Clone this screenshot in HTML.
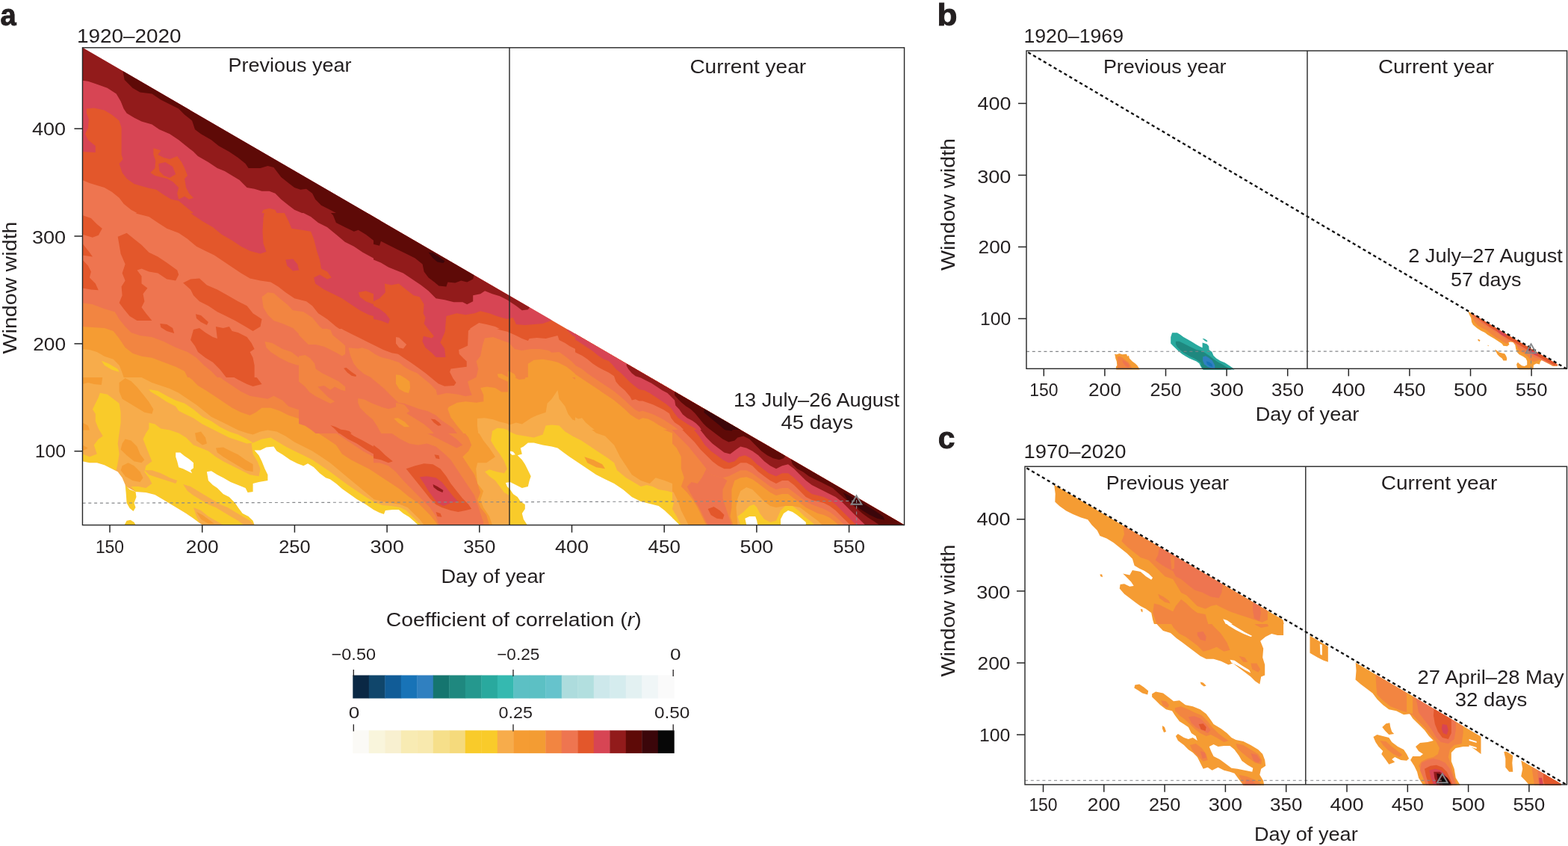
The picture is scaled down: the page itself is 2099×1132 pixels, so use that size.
<!DOCTYPE html>
<html lang="en">
<head>
<meta charset="utf-8">
<title>Correlation of window width and day of year</title>
<style>
html,body{margin:0;padding:0;background:#fff;}
body{width:2099px;height:1132px;overflow:hidden;}
svg{display:block;}
text{font-family:"Liberation Sans",sans-serif;fill:#231f20;}
</style>
</head>
<body>
<svg width="2099" height="1132" viewBox="0 0 2099 1132">
<rect width="2099" height="1132" fill="#ffffff"/>
<clipPath id="triA"><polygon points="110.45,63.8 110.45,702.55 1210.55,702.55"/></clipPath>
<g clip-path="url(#triA)">
<clipPath id="ca1"><rect x="100" y="60" width="400" height="225"/></clipPath>
<g clip-path="url(#ca1)">
<rect x="100" y="60" width="400" height="225" fill="#d74554"/>
<polygon fill="#e3572b" points="115.9,145.5 125.8,144.5 139.8,147.5 149.7,153.4 159.6,161.4 162.6,171.3 162.6,207.1 164.6,213.1 159.6,219.0 163.6,231.0 169.6,238.9 179.5,245.9 189.5,248.9 199.4,251.8 209.3,253.8 219.3,260.8 229.2,266.8 239.2,268.7 251.1,278.7 259.0,285.0 110.3,285.0 110.3,203.1 127.8,204.1 127.8,195.2 117.9,187.2 113.9,179.3 117.9,171.3 118.9,159.4 115.9,151.5"/>
<polygon fill="#e3572b" points="205.4,198.2 215.3,201.2 211.3,207.1 219.3,211.1 227.2,213.1 237.2,209.1 243.1,217.1 247.1,225.0 251.1,235.0 247.1,238.9 249.1,250.9 253.1,258.8 259.0,264.8 253.1,266.8 247.1,262.8 239.2,266.8 237.2,258.8 239.2,250.9 231.2,242.9 223.3,238.9 215.3,236.9 207.4,235.0 201.4,231.0 207.4,225.0 208.3,215.1 205.4,207.1"/>
<polygon fill="#d74554" points="212.3,219.0 221.3,217.1 231.2,223.0 235.2,233.0 227.2,237.9 219.3,235.0 213.3,229.0"/>
<polygon fill="#e3572b" points="352.5,280.7 360.4,278.7 368.4,280.7 370.4,285.0 350.5,285.0"/>
<polygon fill="#ee7550" points="110.3,240.9 119.9,244.9 129.8,247.9 139.8,250.9 149.7,256.8 159.6,264.8 165.6,272.7 175.5,280.7 183.5,285.0 110.3,285.0"/>
<polygon fill="#921b1b" points="110.3,60.0 110.3,107.7 117.9,108.7 129.8,112.7 143.7,117.7 155.7,125.6 161.6,135.5 165.6,145.5 169.6,151.5 179.5,157.4 189.5,162.4 203.4,166.4 213.3,173.3 227.2,179.3 239.2,187.2 249.1,195.2 259.0,203.1 265.0,209.1 278.9,217.1 290.9,225.0 300.8,229.0 310.7,235.0 320.7,240.9 330.6,250.9 340.6,252.8 350.5,255.8 360.4,255.8 368.4,258.8 376.3,266.8 386.3,274.7 394.2,280.7 404.2,285.0 500.0,285.0 500.0,60.0"/>
<polygon fill="#5e0a07" points="164.6,60.0 164.6,95.8 166.6,106.7 177.5,117.7 187.5,123.6 203.4,125.6 215.3,133.6 227.2,139.5 239.2,145.5 247.1,153.4 257.1,161.4 261.0,173.3 269.0,179.3 282.9,187.2 292.8,195.2 306.8,203.1 318.7,211.1 328.6,219.0 332.6,225.0 348.5,225.0 358.4,222.0 366.4,224.0 376.3,236.9 386.3,244.9 394.2,250.9 402.2,253.8 410.1,252.8 418.1,258.8 422.1,266.8 430.0,274.7 441.9,280.7 449.9,285.0 500.0,285.0 500.0,60.0"/>
</g>
<clipPath id="ca2"><rect x="100" y="285" width="400" height="220"/></clipPath>
<g clip-path="url(#ca2)">
<rect x="100" y="285" width="400" height="220" fill="#ee7550"/>
<polygon fill="#f28541" points="110.3,405.2 123.9,407.2 139.8,413.2 153.7,417.2 159.6,427.1 167.6,437.1 175.5,445.0 187.5,449.0 203.4,451.0 219.3,456.9 235.2,464.9 251.1,470.9 263.0,478.8 273.0,488.7 282.9,496.7 290.9,505.0 110.3,505.0"/>
<polygon fill="#f59c33" points="110.3,437.1 123.9,438.1 139.8,439.0 151.7,443.0 159.6,453.0 167.6,464.9 177.5,472.8 189.5,476.8 203.4,478.8 219.3,484.8 235.2,490.7 247.1,496.7 251.1,505.0 110.3,505.0"/>
<polygon fill="#f7ac4b" points="110.3,466.9 119.9,467.9 129.8,470.9 139.8,476.8 151.7,480.8 159.6,488.7 163.6,498.7 165.6,505.0 110.3,505.0"/>
<polygon fill="#f9cb2a" points="135.8,482.8 145.7,486.8 157.7,493.7 159.6,497.7 149.7,494.7 139.8,488.7"/>
<polygon fill="#f28541" points="350.5,397.3 358.4,391.3 366.4,392.3 374.4,399.3 384.3,407.2 392.2,415.2 406.2,417.2 418.1,425.1 428.0,437.1 438.0,445.0 451.9,453.0 461.8,462.9 463.8,474.8 457.9,476.8 445.9,470.9 434.0,464.9 422.1,458.9 410.1,456.9 402.2,449.0 392.2,439.0 378.3,433.1 366.4,429.1 358.4,421.2 352.5,411.2"/>
<polygon fill="#f28541" points="354.5,456.9 364.4,458.9 378.3,466.9 390.3,470.9 400.2,478.8 410.1,474.8 418.1,480.8 410.1,486.8 398.2,488.7 386.3,484.8 374.4,478.8 362.4,470.9 356.5,464.9"/>
<polygon fill="#f28541" points="465.8,464.9 477.7,466.9 489.7,464.9 500.0,468.9 500.0,505.0 477.7,505.0 469.8,490.7 463.8,478.8"/>
<polygon fill="#e3572b" points="171.6,280.0 183.5,286.0 199.4,289.9 211.3,297.9 223.3,305.8 239.2,311.8 251.1,319.8 263.0,329.7 275.0,335.7 286.9,341.6 298.8,349.6 310.7,357.5 322.7,365.5 334.6,372.4 348.5,375.4 362.4,377.4 372.4,383.4 382.3,391.3 394.2,399.3 410.1,403.3 418.1,409.2 426.0,419.2 438.0,427.1 449.9,437.1 461.8,445.0 473.8,451.0 487.7,458.9 500.0,462.9 500.0,280.0"/>
<polygon fill="#e3572b" points="110.3,288.0 121.9,291.9 129.8,299.9 136.8,305.8 131.8,314.8 123.9,317.8 110.3,313.8"/>
<polygon fill="#e3572b" points="110.3,325.7 119.9,337.7 123.9,343.6 110.3,341.6"/>
<polygon fill="#e3572b" points="110.3,347.6 117.9,355.5 121.9,363.5 119.9,371.5 127.8,379.4 131.8,388.3 121.9,387.4 110.3,385.4"/>
<polygon fill="#e3572b" points="157.7,316.8 169.6,311.8 179.5,319.8 189.5,327.7 199.4,337.7 211.3,343.6 223.3,351.6 237.2,361.5 239.2,367.5 235.2,375.4 223.3,373.4 211.3,365.5 199.4,363.5 189.5,359.5 183.5,361.5 189.5,369.5 189.5,379.4 197.4,385.4 191.5,393.3 193.4,403.3 189.5,411.2 195.4,419.2 203.4,429.1 195.4,429.1 183.5,429.1 173.6,423.1 165.6,413.2 159.6,405.2 163.6,395.3 162.6,383.4 167.6,375.4 163.6,365.5 167.6,353.6 161.6,339.6 159.6,327.7"/>
<polygon fill="#e3572b" points="245.1,378.4 255.1,373.4 267.0,372.4 276.9,381.4 290.9,387.4 304.8,395.3 318.7,403.3 330.6,409.2 338.6,419.2 350.5,427.1 348.5,437.1 338.6,443.0 328.6,437.1 314.7,429.1 302.8,423.1 290.9,417.2 278.9,409.2 267.0,403.3 259.0,395.3 255.1,387.4"/>
<polygon fill="#e3572b" points="262.0,420.2 269.0,422.1 278.9,431.1 276.9,435.1 269.0,431.1 263.0,426.1"/>
<polygon fill="#e3572b" points="214.3,433.1 223.3,434.1 231.2,439.0 233.2,446.0 223.3,443.0 215.3,438.1"/>
<polygon fill="#e3572b" points="259.0,441.0 267.0,439.0 275.0,445.0 284.9,451.0 290.9,453.0 288.9,437.1 298.8,439.0 306.8,437.1 310.7,443.0 318.7,445.0 330.6,451.0 336.6,458.9 340.6,466.9 334.6,470.9 338.6,478.8 340.6,488.7 340.6,505.0 302.8,505.0 294.8,494.7 284.9,484.8 275.0,478.8 265.0,470.9 261.0,462.9 255.1,455.0"/>
<polygon fill="#d74554" points="249.1,280.0 259.0,288.0 271.0,295.9 284.9,303.9 296.8,313.8 310.7,321.7 322.7,329.7 334.6,335.7 348.5,339.6 356.5,336.7 352.5,325.7 351.5,309.8 352.5,291.9 354.5,280.0"/>
<polygon fill="#d74554" points="378.3,280.0 386.3,295.9 390.3,305.8 404.2,307.8 416.1,309.8 420.1,319.8 424.1,335.7 428.0,347.6 430.0,359.5 438.0,363.5 443.9,371.5 438.0,373.4 428.0,367.5 420.1,371.5 422.1,379.4 434.0,387.4 445.9,393.3 457.9,399.3 469.8,407.2 481.7,415.2 493.6,421.2 500.0,423.1 500.0,280.0"/>
<polygon fill="#d74554" points="382.3,347.6 392.2,346.6 398.2,353.6 400.2,361.5 392.2,362.5 384.3,355.5"/>
<polygon fill="#e3572b" points="479.7,391.3 489.7,389.3 500.0,393.3 500.0,407.2 489.7,403.3 481.7,397.3"/>
<polygon fill="#921b1b" points="392.2,280.0 404.2,284.0 416.1,289.9 426.0,297.9 438.0,303.9 449.9,313.8 461.8,323.7 473.8,329.7 485.7,337.7 500.0,345.6 500.0,280.0"/>
<polygon fill="#5e0a07" points="438.0,280.0 445.9,288.0 449.9,297.9 461.8,303.9 473.8,309.8 479.7,307.8 489.7,313.8 500.0,321.7 500.0,280.0"/>
</g>
<clipPath id="ca3"><rect x="500" y="280" width="400" height="225"/></clipPath>
<g clip-path="url(#ca3)">
<rect x="500" y="280" width="400" height="225" fill="#e3572b"/>
<polygon fill="#ee7550" points="603.4,505.0 603.4,494.7 613.3,490.7 623.3,488.7 625.2,480.8 615.3,474.8 614.3,468.9 619.3,464.9 627.2,462.9 625.2,455.0 627.2,441.0 633.2,437.1 641.2,432.1 651.1,434.1 663.0,437.1 673.0,442.0 681.9,445.0 690.9,449.0 698.8,453.0 706.8,455.9 708.7,453.0 718.7,452.0 730.6,453.0 738.6,451.0 746.5,449.0 748.5,455.0 756.5,458.9 762.4,462.9 770.4,466.9 778.3,472.8 788.3,476.8 796.2,480.8 804.2,484.8 812.1,486.8 820.1,492.7 828.0,500.7 830.0,505.0"/>
<polygon fill="#f28541" points="639.2,505.0 639.2,494.7 637.2,484.8 643.1,478.8 643.1,468.9 647.1,458.9 651.1,452.0 659.0,451.0 671.0,455.0 681.9,458.9 688.9,466.9 698.8,468.9 710.7,466.9 722.7,466.9 734.6,468.9 738.6,471.8 748.5,470.9 756.5,476.8 764.4,482.8 770.4,488.7 778.3,492.7 788.3,498.7 794.2,505.0"/>
<polygon fill="#f59c33" points="706.8,505.0 706.8,486.8 714.7,481.8 726.6,480.8 738.6,482.8 746.5,484.8 758.4,490.7 768.4,498.7 774.4,505.0"/>
<polygon fill="#f59c33" points="665.0,500.7 673.0,498.7 681.9,496.7 688.9,500.7 690.9,505.0 665.0,505.0"/>
<polygon fill="#ee7550" points="500.0,464.9 509.9,468.9 519.9,472.8 531.8,476.8 533.8,470.9 539.8,476.8 551.7,482.8 563.6,490.7 575.5,498.7 585.5,505.0 500.0,505.0"/>
<polygon fill="#f28541" points="500.0,476.8 511.9,480.8 523.9,486.8 539.8,492.7 555.7,500.7 565.6,505.0 500.0,505.0"/>
<polygon fill="#ee7550" points="529.8,453.0 533.8,451.0 539.8,456.9 544.7,460.9 539.8,466.9 533.8,464.9 529.8,458.9"/>
<polygon fill="#d74554" points="500.0,280.0 500.0,403.3 508.0,399.3 515.9,391.3 514.9,379.4 523.9,381.4 533.8,379.4 543.7,387.4 553.7,395.3 561.6,397.3 567.6,407.2 566.6,419.2 569.6,425.1 567.6,433.1 573.6,441.0 579.5,451.0 575.5,453.0 567.6,451.0 565.6,456.9 569.6,464.9 577.5,470.9 583.5,477.8 595.4,478.8 596.4,468.9 591.5,458.9 595.4,445.0 596.4,435.1 597.4,423.1 611.3,419.2 623.3,421.2 635.2,419.2 643.1,416.2 655.1,419.2 665.0,423.1 678.9,427.1 686.9,425.1 690.9,434.1 702.8,435.1 714.7,434.1 726.6,433.1 737.6,429.1 758.4,419.2 758.4,280.0"/>
<polygon fill="#d74554" points="500.0,409.2 508.0,413.2 515.9,419.2 521.9,427.1 519.9,433.1 509.9,429.1 500.0,427.1"/>
<polygon fill="#d74554" points="758.4,441.0 766.4,449.0 778.3,455.0 790.3,460.9 798.2,468.9 810.1,476.8 822.1,480.8 830.0,488.7 838.0,496.7 845.9,505.0 877.7,505.0 877.7,498.7 778.3,439.0"/>
<polygon fill="#921b1b" points="838.0,489.7 845.9,494.7 855.9,500.7 863.8,505.0 877.7,505.0 869.8,498.7 841.9,486.8"/>
<polygon fill="#921b1b" points="500.0,280.0 500.0,347.6 509.9,351.6 519.9,357.5 529.8,361.5 539.8,365.5 551.7,373.4 563.6,381.4 573.6,389.3 583.5,399.3 595.4,401.3 607.4,404.3 619.3,404.3 625.2,407.2 633.2,403.3 633.2,395.3 643.1,393.3 649.1,389.3 659.0,393.3 669.0,396.3 678.9,401.3 690.9,409.2 698.8,415.2 706.8,414.2 710.7,409.2 710.7,280.0"/>
<polygon fill="#5e0a07" points="500.0,280.0 500.0,326.7 508.0,328.7 509.9,322.7 519.9,327.7 531.8,333.7 543.7,339.6 555.7,345.6 565.6,353.6 567.6,363.5 573.6,371.5 581.5,377.4 587.5,382.4 597.4,383.4 599.4,377.4 609.3,378.4 617.3,375.4 625.2,377.4 633.2,373.4 635.2,365.5 635.2,280.0"/>
<polygon fill="#3b060a" points="573.6,337.7 579.5,338.6 587.5,343.6 595.4,349.6 593.4,352.0 585.5,350.6 579.5,345.6"/>
</g>
<clipPath id="ca4"><rect x="100" y="505" width="400" height="220"/></clipPath>
<g clip-path="url(#ca4)">
<rect x="100" y="505" width="400" height="220" fill="#f7ac4b"/>
<polygon fill="#f59c33" points="179.5,500.0 191.5,506.0 203.4,511.9 215.3,515.9 227.2,519.9 239.2,525.8 251.1,533.8 263.0,541.7 273.0,549.7 282.9,557.7 294.8,563.6 306.8,569.6 318.7,575.5 330.6,579.5 338.6,581.5 348.5,577.5 358.4,575.5 370.4,577.5 382.3,583.5 394.2,591.5 406.2,597.4 418.1,603.4 430.0,611.3 441.9,619.3 453.9,629.2 465.8,639.2 477.7,649.1 489.7,659.0 500.0,667.6 500.0,500.0"/>
<polygon fill="#f28541" points="247.1,500.0 257.1,508.0 265.0,515.9 275.0,521.9 286.9,529.8 298.8,537.8 310.7,545.7 322.7,551.7 334.6,555.7 342.5,551.7 350.5,545.7 362.4,545.7 374.4,549.7 386.3,555.7 398.2,559.6 410.1,563.6 418.1,569.6 426.0,579.5 438.0,587.5 449.9,595.4 457.9,607.4 469.8,615.3 481.7,621.3 493.6,627.2 500.0,631.2 500.0,500.0"/>
<polygon fill="#ee7550" points="288.9,500.0 298.8,508.0 310.7,515.9 322.7,523.9 334.6,529.8 346.5,531.8 358.4,533.8 366.4,529.8 378.3,535.8 386.3,543.7 398.2,547.7 410.1,549.7 418.1,555.7 426.0,563.6 438.0,569.6 449.9,579.5 461.8,587.5 473.8,595.4 485.7,603.4 500.0,611.3 500.0,500.0"/>
<polygon fill="#f28541" points="398.2,500.0 418.1,506.0 438.0,515.9 453.9,523.9 467.8,531.8 477.7,539.8 487.7,537.8 500.0,535.8 500.0,500.0"/>
<polygon fill="#e3572b" points="304.8,500.0 338.6,500.0 344.5,506.0 350.5,513.9 338.6,516.9 330.6,513.9 318.7,508.0"/>
<polygon fill="#e3572b" points="443.9,569.6 453.9,573.6 463.8,576.5 473.8,583.5 485.7,589.5 500.0,597.4 500.0,607.4 489.7,601.4 477.7,593.4 465.8,587.5 453.9,579.5"/>
<polygon fill="#f59c33" points="159.6,511.9 167.6,506.0 175.5,509.9 183.5,517.9 191.5,527.8 199.4,537.8 205.4,547.7 203.4,553.7 193.4,551.7 183.5,545.7 173.6,539.8 163.6,533.8 159.6,523.9"/>
<polygon fill="#f59c33" points="167.6,587.5 175.5,589.5 183.5,597.4 187.5,607.4 193.4,615.3 189.5,619.3 179.5,617.3 169.6,609.3 161.6,601.4 163.6,593.4"/>
<polygon fill="#f59c33" points="163.6,623.3 171.6,619.3 179.5,623.3 187.5,631.2 191.5,639.2 187.5,645.1 177.5,643.1 167.6,637.2 161.6,629.2"/>
<polygon fill="#f59c33" points="261.0,579.5 269.0,577.5 275.0,585.5 276.9,593.4 271.0,595.4 263.0,589.5"/>
<polygon fill="#f59c33" points="110.3,500.0 137.8,500.0 136.8,508.0 135.8,514.9 125.8,513.9 117.9,511.9 110.3,513.9"/>
<polygon fill="#f59c33" points="110.3,565.6 117.9,569.6 119.9,575.5 110.3,575.5"/>
<polygon fill="#f59c33" points="110.3,595.4 117.9,599.4 110.3,603.4"/>
<polygon fill="#f9cb2a" points="133.8,525.8 143.7,527.8 151.7,533.8 159.6,539.8 161.6,551.7 161.6,565.6 159.6,579.5 157.7,593.4 159.6,607.4 157.7,619.3 155.7,629.2 149.7,627.2 139.8,622.3 129.8,619.3 119.9,619.3 110.3,617.3 110.3,607.4 119.9,611.3 129.8,607.4 125.8,595.4 131.8,587.5 137.8,583.5 131.8,573.6 127.8,563.6 127.8,553.7 123.9,547.7 127.8,539.8 131.8,531.8"/>
<polygon fill="#f9cb2a" points="199.4,520.9 211.3,522.9 223.3,529.8 235.2,535.8 247.1,539.8 259.0,547.7 271.0,557.7 282.9,563.6 294.8,571.6 306.8,577.5 318.7,581.5 330.6,587.5 338.6,592.4 330.6,593.4 318.7,589.5 306.8,585.5 294.8,579.5 282.9,573.6 271.0,567.6 259.0,559.6 247.1,553.7 239.2,549.7 235.2,543.7 223.3,537.8 211.3,529.8 201.4,523.9"/>
<polygon fill="#f9cb2a" points="199.4,565.6 207.4,567.6 215.3,573.6 227.2,575.5 239.2,579.5 249.1,585.5 259.0,595.4 269.0,599.4 278.9,603.4 288.9,611.3 298.8,617.3 310.7,623.3 322.7,629.2 334.6,635.2 346.5,637.2 348.5,627.2 344.5,617.3 338.6,607.4 336.6,593.4 350.5,587.5 362.4,585.5 372.4,591.5 382.3,597.4 394.2,603.4 406.2,609.3 418.1,615.3 430.0,623.3 441.9,631.2 453.9,640.2 465.8,649.1 477.7,657.1 489.7,665.0 500.0,671.0 500.0,702.4 271.0,702.4 259.0,693.8 249.1,686.9 239.2,680.9 229.2,675.0 219.3,669.0 207.4,662.0 195.4,659.0 181.5,658.1 175.5,651.1 185.5,651.1 195.4,653.1 203.4,647.1 199.4,639.2 193.4,631.2 195.4,623.3 203.4,617.3 199.4,607.4 195.4,597.4 191.5,587.5 195.4,579.5 199.4,573.6"/>
<polygon fill="#f7ac4b" points="193.4,629.2 203.4,629.2 215.3,633.2 227.2,639.2 237.2,643.1 235.2,647.1 223.3,643.1 211.3,639.2 199.4,635.2"/>
<polygon fill="#f7ac4b" points="245.1,648.1 255.1,651.1 265.0,657.1 275.0,663.0 284.9,669.0 294.8,675.0 304.8,678.9 314.7,684.9 324.7,690.9 334.6,696.8 340.6,702.4 326.6,702.4 318.7,696.8 308.7,690.9 298.8,684.9 288.9,678.9 278.9,675.0 269.0,669.0 259.0,663.0 251.1,657.1"/>
<polygon fill="#f7ac4b" points="259.0,678.9 269.0,682.9 278.9,690.9 288.9,696.8 298.8,702.4 269.0,702.4 263.0,690.9"/>
<polygon fill="#f59c33" points="263.0,684.9 271.0,688.9 278.9,694.8 286.9,700.8 278.9,700.8 269.0,694.8"/>
<polygon fill="#f59c33" points="288.9,599.4 298.8,598.4 308.7,603.4 318.7,608.3 328.6,615.3 338.6,621.3 338.6,631.2 328.6,629.2 318.7,623.3 308.7,617.3 298.8,611.3 290.9,605.4"/>
<polygon fill="#ffffff" points="110.3,617.3 119.9,619.3 129.8,619.3 139.8,622.3 149.7,627.2 157.7,631.2 163.6,639.2 168.6,651.1 181.5,658.1 195.4,659.0 207.4,662.0 219.3,669.0 229.2,675.0 239.2,680.9 249.1,686.9 259.0,693.8 267.0,699.8 271.0,702.4 110.3,702.4"/>
<polygon fill="#f9cb2a" points="167.6,649.1 173.6,655.1 181.5,658.1 182.5,665.0 179.5,673.0 181.5,678.9 178.5,683.9 173.6,679.9 169.6,673.0 168.6,659.0"/>
<polygon fill="#f9cb2a" points="166.6,702.4 169.6,696.8 174.6,695.8 179.5,698.8 181.5,702.4"/>
<polygon fill="#ffffff" points="235.2,605.4 241.2,605.4 247.1,610.3 253.1,614.3 259.0,619.3 259.0,626.2 255.1,629.2 257.1,633.2 251.1,630.2 245.1,627.2 239.2,625.2 237.2,617.3 235.2,611.3"/>
<polygon fill="#ffffff" points="276.9,631.2 282.9,630.2 290.9,635.2 298.8,639.2 308.7,645.1 318.7,649.1 328.6,653.1 331.6,659.0 338.6,658.1 338.6,647.1 346.5,645.1 358.4,643.1 358.4,635.2 354.5,627.2 350.5,617.3 346.5,609.3 340.6,602.4 348.5,602.4 356.5,598.4 366.4,597.4 370.4,603.4 378.3,608.3 388.3,615.3 398.2,620.3 406.2,623.3 412.1,620.3 420.1,625.2 428.0,633.2 436.0,639.2 441.9,641.2 449.9,647.1 457.9,654.1 467.8,661.0 477.7,668.0 489.7,675.0 500.0,681.9 500.0,702.4 340.6,702.4 338.6,696.8 332.6,690.9 324.7,686.9 318.7,678.9 314.7,673.0 306.8,665.0 298.8,661.0 290.9,653.1 284.9,649.1 278.9,643.1"/>
</g>
<clipPath id="ca5"><rect x="500" y="505" width="400" height="220"/></clipPath>
<g clip-path="url(#ca5)">
<rect x="500" y="505" width="400" height="220" fill="#f59c33"/>
<polygon fill="#f28541" points="679.9,500.0 679.9,523.9 673.0,529.8 659.0,519.9 643.1,517.9 647.1,529.8 647.1,537.8 635.2,539.8 619.3,539.8 607.4,541.7 599.4,547.7 603.4,557.7 611.3,565.6 619.3,575.5 627.2,585.5 631.2,595.4 627.2,603.4 619.3,611.3 627.2,623.3 635.2,635.2 639.2,647.1 643.1,659.0 639.2,669.0 643.1,678.9 651.1,688.9 655.1,702.4 559.6,702.4 551.7,690.9 543.7,682.9 535.8,678.9 523.9,676.9 511.9,676.9 500.0,675.0 500.0,500.0"/>
<polygon fill="#f59c33" points="529.8,504.0 539.8,502.0 547.7,509.9 549.7,517.9 541.7,521.9 533.8,515.9"/>
<polygon fill="#f59c33" points="527.8,559.6 535.8,558.6 543.7,563.6 549.7,569.6 543.7,571.6 533.8,567.6"/>
<polygon fill="#f59c33" points="500.0,631.2 511.9,639.2 523.9,647.1 535.8,655.1 547.7,665.0 559.6,673.0 567.6,680.9 575.5,688.9 583.5,698.8 585.5,702.4 559.6,702.4 551.7,690.9 543.7,682.9 535.8,678.9 523.9,676.9 511.9,676.9 500.0,675.0"/>
<polygon fill="#ee7550" points="500.0,500.0 569.6,500.0 583.5,506.0 599.4,511.9 611.3,515.9 627.2,519.9 631.2,529.8 623.3,531.8 611.3,529.8 599.4,531.8 587.5,535.8 575.5,531.8 563.6,525.8 551.7,521.9 539.8,525.8 529.8,535.8 539.8,543.7 551.7,551.7 563.6,559.6 575.5,565.6 587.5,571.6 599.4,579.5 611.3,587.5 619.3,595.4 611.3,599.4 599.4,593.4 587.5,587.5 575.5,581.5 563.6,575.5 551.7,567.6 539.8,559.6 527.8,553.7 515.9,547.7 500.0,539.8"/>
<polygon fill="#ee7550" points="500.0,565.6 511.9,569.6 523.9,579.5 535.8,587.5 547.7,593.4 559.6,595.4 571.6,593.4 583.5,597.4 595.4,607.4 603.4,615.3 611.3,627.2 619.3,639.2 627.2,651.1 635.2,663.0 639.2,675.0 643.1,686.9 647.1,698.8 647.1,702.4 587.5,702.4 583.5,690.9 575.5,678.9 563.6,667.0 551.7,655.1 539.8,643.1 529.8,631.2 519.9,623.3 508.0,619.3 500.0,619.3"/>
<polygon fill="#e3572b" points="569.6,500.0 603.4,500.0 611.3,508.0 609.3,513.9 599.4,515.9 587.5,511.9 575.5,506.0"/>
<polygon fill="#e3572b" points="500.0,595.4 508.0,601.4 515.9,609.3 525.8,617.3 519.9,619.3 509.9,615.3 500.0,613.3"/>
<polygon fill="#e3572b" points="543.7,627.2 555.7,623.3 567.6,620.3 579.5,621.3 589.5,627.2 597.4,637.2 603.4,647.1 611.3,657.1 619.3,667.0 627.2,675.0 631.2,680.9 623.3,682.9 613.3,684.9 603.4,682.9 591.5,678.9 583.5,675.0 575.5,667.0 567.6,657.1 559.6,647.1 551.7,637.2"/>
<polygon fill="#d74554" points="561.6,638.2 571.6,637.2 583.5,639.2 591.5,645.1 599.4,655.1 607.4,665.0 613.3,671.0 603.4,673.0 593.4,676.9 585.5,673.0 579.5,665.0 573.6,657.1 567.6,647.1"/>
<polygon fill="#921b1b" points="579.5,648.1 585.5,651.1 593.4,656.1 592.4,659.0 585.5,656.1 580.5,652.1"/>
<polygon fill="#e3572b" points="577.5,560.6 583.5,561.6 591.5,567.6 589.5,570.6 581.5,566.6"/>
<polygon fill="#e3572b" points="581.5,608.3 587.5,609.3 588.5,614.3 583.5,613.3"/>
<polygon fill="#e3572b" points="583.5,684.9 589.5,686.9 591.5,691.8 585.5,690.9"/>
<polygon fill="#f7ac4b" points="639.2,559.6 651.1,558.6 663.0,561.6 673.0,565.6 681.9,568.6 690.9,565.6 698.8,567.6 710.7,559.6 718.7,555.7 730.6,551.7 732.6,539.8 738.6,533.8 746.5,521.9 748.5,533.8 756.5,543.7 760.4,553.7 766.4,561.6 778.3,565.6 790.3,573.6 798.2,579.5 810.1,583.5 822.1,595.4 830.0,611.3 838.0,623.3 845.9,635.2 857.9,643.1 869.8,647.1 877.7,639.2 889.7,643.1 900.0,647.1 900.0,702.4 659.0,702.4 655.1,690.9 647.1,678.9 643.1,669.0 647.1,657.1 639.2,647.1 637.2,627.2 639.2,619.3 651.1,619.3 663.0,611.3 655.1,599.4 647.1,589.5 641.2,579.5 638.2,569.6"/>
<polygon fill="#f9cb2a" points="659.0,577.5 665.0,572.6 675.0,573.6 681.9,577.5 690.9,581.5 702.8,583.5 714.7,585.5 726.6,581.5 730.6,569.6 738.6,568.6 748.5,569.6 756.5,577.5 766.4,583.5 778.3,589.5 790.3,597.4 802.2,605.4 814.1,613.3 822.1,619.3 826.0,629.2 838.0,639.2 847.9,645.1 857.9,651.1 865.8,649.1 873.8,651.1 881.7,655.1 893.6,657.1 900.0,659.0 900.0,702.4 681.9,702.4 681.9,663.0 675.0,659.0 669.0,651.1 663.0,643.1 655.1,637.2 649.1,631.2 655.1,628.2 665.0,631.2 675.0,633.2 678.9,627.2 675.0,617.3 669.0,607.4 663.0,599.4 657.1,589.5"/>
<polygon fill="#f59c33" points="782.3,611.3 794.2,615.3 806.2,621.3 810.1,627.2 798.2,625.2 786.3,619.3"/>
<polygon fill="#f7ac4b" points="500.0,668.0 511.9,671.0 523.9,673.0 535.8,675.0 545.7,678.9 553.7,686.9 561.6,694.8 567.6,702.4 500.0,702.4"/>
<polygon fill="#f9cb2a" points="500.0,671.4 511.9,675.9 523.9,676.9 535.8,678.9 543.7,682.9 551.7,690.9 559.6,698.8 563.6,702.4 500.0,702.4"/>
<polygon fill="#ffffff" points="500.0,681.9 508.0,685.9 513.9,687.9 515.9,682.9 525.8,681.9 533.8,681.9 539.8,686.9 547.7,691.8 555.7,698.8 559.6,702.4 500.0,702.4"/>
<polygon fill="#ffffff" points="706.8,592.4 714.7,592.4 726.6,595.4 738.6,597.4 746.5,599.4 754.5,605.4 762.4,611.3 774.4,619.3 786.3,627.2 798.2,635.2 810.1,641.2 822.1,647.1 834.0,655.1 845.9,665.0 857.9,671.0 869.8,674.0 881.7,676.9 889.7,682.9 900.0,692.8 900.0,702.4 705.8,702.4 700.8,694.8 698.8,686.9 702.8,680.9 702.8,675.0 696.8,671.0 692.8,665.0 686.9,661.0 682.9,655.1 678.9,651.1 676.9,646.1 682.9,645.1 690.9,649.1 698.8,653.1 706.8,651.1 708.7,643.1 710.7,637.2 706.8,629.2 702.8,621.3 698.8,615.3 692.8,609.3 698.8,607.4 696.8,599.4 700.8,597.4"/>
<polygon fill="#ffffff" points="682.9,603.4 686.9,604.4 689.9,608.3 685.9,608.9 682.9,606.4"/>
<polygon fill="#f28541" points="758.4,500.0 770.4,508.0 782.3,515.9 794.2,523.9 806.2,531.8 818.1,539.8 830.0,547.7 841.9,553.7 853.9,559.6 865.8,565.6 877.7,571.6 889.7,575.5 900.0,579.5 900.0,500.0"/>
<polygon fill="#f28541" points="686.9,500.0 704.8,500.0 702.8,507.0 694.8,508.0 688.9,505.0"/>
<polygon fill="#ee7550" points="782.3,500.0 794.2,508.0 806.2,515.9 818.1,523.9 830.0,531.8 841.9,539.8 853.9,545.7 865.8,551.7 877.7,557.7 889.7,561.6 900.0,565.6 900.0,500.0"/>
<polygon fill="#e3572b" points="818.1,500.0 826.0,509.9 834.0,519.9 841.9,529.8 849.9,537.8 857.9,541.7 869.8,545.7 881.7,549.7 893.6,555.7 900.0,557.7 900.0,500.0"/>
<polygon fill="#d74554" points="830.0,500.0 841.9,509.9 853.9,519.9 865.8,525.8 877.7,531.8 889.7,539.8 900.0,547.7 900.0,500.0"/>
<polygon fill="#921b1b" points="845.9,500.0 857.9,504.0 869.8,509.9 881.7,517.9 893.6,525.8 900.0,531.8 900.0,500.0"/>
</g>
<clipPath id="ca6"><rect x="900" y="500" width="380" height="225"/></clipPath>
<g clip-path="url(#ca6)">
<rect x="900" y="500" width="380" height="225" fill="#f59c33"/>
<polygon fill="#f28541" points="880.0,500.0 880.0,583.5 889.9,585.5 897.9,591.5 905.8,599.4 911.8,611.3 911.8,627.2 915.8,639.2 911.8,651.1 919.8,659.0 927.7,669.0 933.7,678.9 939.6,690.9 945.6,702.4 981.4,702.4 977.4,690.9 979.4,678.9 979.4,667.0 979.4,655.1 983.4,643.1 991.3,639.2 999.3,638.2 1007.2,641.2 1015.2,647.1 1023.1,653.1 1031.1,659.0 1039.0,663.0 1047.0,661.0 1055.0,661.0 1062.9,667.0 1070.9,673.0 1078.8,678.9 1086.8,682.9 1094.7,686.9 1102.7,688.9 1110.6,692.8 1118.6,698.8 1122.5,702.4 1280.0,725.0 1280.0,500.0"/>
<polygon fill="#ee7550" points="880.0,500.0 880.0,565.6 889.9,567.6 897.9,573.6 905.8,581.5 913.8,589.5 921.7,597.4 929.7,607.4 937.7,617.3 945.6,627.2 951.6,635.2 959.5,637.2 967.5,639.2 975.4,637.2 983.4,633.2 991.3,629.2 999.3,629.2 1007.2,633.2 1015.2,639.2 1023.1,645.1 1031.1,651.1 1039.0,655.1 1047.0,653.1 1055.0,653.1 1062.9,659.0 1070.9,665.0 1078.8,671.0 1086.8,675.0 1094.7,677.9 1102.7,680.9 1110.6,684.9 1118.6,690.9 1126.5,698.8 1130.5,702.4 1280.0,725.0 1280.0,500.0"/>
<polygon fill="#ee7550" points="945.6,627.2 951.6,635.2 959.5,637.2 967.5,639.2 973.4,643.1 967.5,655.1 967.5,667.0 971.5,678.9 975.4,690.9 979.4,702.4 947.6,702.4 941.6,690.9 935.7,678.9 929.7,669.0 923.7,659.0 919.8,651.1 925.7,645.1 933.7,647.1 939.6,639.2"/>
<polygon fill="#e3572b" points="947.6,680.9 955.5,677.9 963.5,682.9 969.5,688.9 967.5,694.8 959.5,693.8 951.6,688.9"/>
<polygon fill="#e3572b" points="880.0,500.0 880.0,551.7 889.9,553.7 897.9,559.6 905.8,567.6 913.8,575.5 921.7,583.5 929.7,591.5 937.7,601.4 945.6,609.3 953.6,617.3 961.5,623.3 969.5,627.2 977.4,627.2 985.4,623.3 991.3,619.3 999.3,619.3 1007.2,623.3 1015.2,631.2 1023.1,637.2 1031.1,643.1 1039.0,647.1 1047.0,643.1 1055.0,643.1 1062.9,649.1 1070.9,657.1 1078.8,665.0 1086.8,669.0 1094.7,671.0 1102.7,673.0 1110.6,676.9 1118.6,682.9 1126.5,690.9 1134.5,698.8 1138.4,702.4 1280.0,725.0 1280.0,500.0"/>
<polygon fill="#d74554" points="880.0,500.0 880.0,537.8 888.0,539.8 895.9,541.7 901.9,551.7 909.8,559.6 917.8,565.6 927.7,573.6 935.7,583.5 943.6,595.4 951.6,603.4 959.5,609.3 967.5,615.3 975.4,619.3 983.4,617.3 989.3,611.3 997.3,609.3 1005.2,613.3 1013.2,621.3 1021.2,627.2 1029.1,633.2 1039.0,637.2 1047.0,633.2 1055.0,633.2 1062.9,639.2 1070.9,647.1 1078.8,655.1 1086.8,661.0 1094.7,663.0 1102.7,665.0 1110.6,669.0 1118.6,675.0 1126.5,682.9 1134.5,690.9 1142.4,698.8 1146.4,702.4 1280.0,725.0 1280.0,500.0"/>
<polygon fill="#921b1b" points="880.0,500.0 880.0,521.9 888.0,525.8 895.9,529.8 899.9,537.8 905.8,545.7 913.8,551.7 923.7,557.7 931.7,565.6 937.7,575.5 945.6,585.5 953.6,593.4 961.5,599.4 969.5,605.4 977.4,607.4 985.4,601.4 991.3,597.4 999.3,599.4 1007.2,603.4 1015.2,609.3 1023.1,617.3 1031.1,623.3 1039.0,627.2 1047.0,623.3 1055.0,621.3 1062.9,627.2 1070.9,635.2 1078.8,643.1 1086.8,649.1 1094.7,653.1 1102.7,657.1 1110.6,661.0 1118.6,665.0 1126.5,671.0 1134.5,678.9 1142.4,686.9 1150.4,694.8 1158.3,702.4 1280.0,725.0 1280.0,500.0"/>
<polygon fill="#5e0a07" points="903.9,519.9 903.9,529.8 911.8,536.8 919.8,541.7 927.7,547.7 935.7,557.7 943.6,567.6 951.6,575.5 959.5,581.5 967.5,587.5 975.4,591.5 983.4,589.5 987.4,585.5 995.3,583.5 1003.3,587.5 1011.2,595.4 1019.2,603.4 1027.1,609.3 1035.1,613.3 1043.0,615.3 1049.0,613.3 1053.0,607.4 1053.0,500.0 903.9,500.0"/>
<polygon fill="#5e0a07" points="1058.9,615.3 1060.9,621.3 1066.9,627.2 1074.8,631.2 1082.8,637.2 1090.7,641.2 1098.7,645.1 1106.6,649.1 1114.6,653.1 1122.5,660.0 1130.5,667.0 1138.4,673.0 1146.4,679.9 1154.4,686.9 1162.3,692.8 1170.3,697.8 1177.2,702.4 1280.0,725.0 1280.0,500.0 1058.9,500.0"/>
<polygon fill="#3b060a" points="943.6,553.7 951.6,557.7 959.5,563.6 967.5,567.6 975.4,571.6 981.4,574.6 979.4,576.5 971.5,575.5 963.5,571.6 955.5,567.6 947.6,561.6"/>
<polygon fill="#3b060a" points="1128.5,659.0 1138.4,664.0 1146.4,668.0 1154.4,673.0 1162.3,677.9 1172.2,683.9 1182.2,690.9 1184.2,695.8 1174.2,693.8 1164.3,688.9 1154.4,682.9 1144.4,675.9 1134.5,669.0"/>
<polygon fill="#f7ac4b" points="880.0,619.3 888.0,623.3 895.9,629.2 891.9,637.2 886.0,639.2 880.0,637.2"/>
<polygon fill="#f7ac4b" points="880.0,647.1 891.9,651.1 901.9,659.0 907.8,671.0 911.8,682.9 917.8,694.8 921.7,702.4 880.0,702.4"/>
<polygon fill="#f7ac4b" points="991.3,657.1 999.3,652.1 1007.2,655.1 1015.2,663.0 1023.1,671.0 1031.1,676.9 1039.0,678.9 1051.0,676.9 1060.9,676.9 1070.9,678.9 1078.8,684.9 1086.8,690.9 1094.7,696.8 1100.7,702.4 987.4,702.4 985.4,678.9 987.4,667.0"/>
<polygon fill="#f9cb2a" points="880.0,657.1 889.9,659.0 897.9,665.0 901.9,673.0 899.9,680.9 905.8,690.9 911.8,702.4 880.0,702.4"/>
<polygon fill="#f9cb2a" points="987.4,690.9 995.3,684.9 1003.3,676.9 1009.2,675.0 1013.2,678.9 1017.2,686.9 1023.1,694.8 1031.1,698.8 1039.0,696.8 1045.0,682.9 1051.0,676.9 1060.9,676.9 1068.9,682.9 1076.8,690.9 1086.8,698.8 1090.7,702.4 991.3,702.4"/>
<polygon fill="#ffffff" points="880.0,678.9 888.0,680.9 893.9,684.9 897.9,690.9 903.9,696.8 909.8,702.4 880.0,702.4"/>
<polygon fill="#ffffff" points="997.3,693.8 1003.3,690.9 1011.2,690.9 1013.2,696.8 1014.2,702.4 999.3,702.4"/>
<polygon fill="#ffffff" points="1045.0,694.8 1049.0,686.9 1055.0,682.9 1060.9,684.9 1066.9,688.9 1072.8,693.8 1078.8,698.8 1078.8,702.4 1045.0,702.4"/>
</g>
<clipPath id="cp1"><rect x="400" y="440" width="280" height="140"/></clipPath>
<g clip-path="url(#cp1)">
<rect x="400" y="440" width="280" height="140" fill="#ee7550"/>
<polygon fill="#f28541" points="400.0,420.0 415.5,420.0 421.2,425.7 428.3,434.1 436.7,439.8 442.4,441.2 445.2,448.3 453.7,455.3 462.2,462.4 462.2,473.7 458.0,476.5 450.9,472.3 442.4,468.1 433.9,463.8 422.6,461.0 412.7,461.0 405.7,453.9 400.0,448.3"/>
<polygon fill="#f28541" points="466.4,465.2 479.2,466.6 484.8,465.2 493.3,468.1 501.8,473.7 510.2,478.0 521.6,480.8 534.3,485.0 541.3,490.7 548.4,494.9 558.3,499.2 566.8,506.2 575.3,513.3 583.7,521.8 585.2,528.8 597.9,526.0 612.0,527.4 623.3,530.2 631.8,528.8 629.0,521.8 626.1,510.5 637.5,504.8 640.3,493.5 637.5,483.6 643.1,476.5 645.9,462.4 648.8,452.5 660.1,451.1 671.4,455.3 680.0,458.2 680.0,580.0 612.0,580.0 606.4,572.7 597.9,567.0 589.4,561.3 583.7,555.7 572.4,550.0 561.1,547.2 549.8,543.0 541.3,540.1 532.9,538.7 527.2,533.1 521.6,527.4 513.1,518.9 504.6,511.9 496.1,504.8 487.6,500.6 479.2,493.5 473.5,486.4 469.3,476.5"/>
<polygon fill="#f28541" points="400.0,476.5 408.5,475.1 415.5,479.4 421.2,486.4 422.6,493.5 431.1,499.2 442.4,504.8 453.7,510.5 462.2,517.5 462.2,523.2 456.5,521.8 448.1,517.5 442.4,521.8 433.9,516.1 425.4,517.5 431.1,523.2 439.6,531.7 448.1,537.3 442.4,540.1 431.1,534.5 422.6,530.2 414.1,524.6 408.5,517.5 400.0,510.5"/>
<polygon fill="#f28541" points="479.2,533.1 487.6,534.5 498.9,540.1 510.2,544.4 520.1,547.2 530.0,544.4 530.0,538.7 541.3,541.6 548.4,550.0 544.2,552.9 555.5,559.9 566.8,567.0 575.3,574.1 580.9,580.0 510.2,580.0 504.6,569.8 498.9,561.3 490.5,554.3 482.0,545.8 479.2,538.7"/>
<polygon fill="#f59c33" points="530.0,501.3 535.7,502.0 542.8,506.2 548.4,510.5 549.1,518.9 547.0,526.0 541.3,524.6 534.3,520.4 530.0,513.3"/>
<polygon fill="#f59c33" points="527.2,559.9 532.9,559.2 541.3,564.2 548.4,571.2 541.3,571.2 532.9,565.6"/>
<polygon fill="#f59c33" points="400.0,567.0 408.5,569.8 417.0,575.5 422.6,580.0 400.0,580.0"/>
<polygon fill="#f59c33" points="600.7,544.4 612.0,538.7 623.3,537.3 637.5,538.7 647.3,537.3 647.3,528.8 643.1,518.9 651.6,517.5 662.9,518.9 671.4,524.6 680.0,524.6 680.0,580.0 620.5,580.0 612.0,569.8 603.5,558.5 599.3,547.2"/>
<polygon fill="#f59c33" points="665.7,500.6 671.4,499.9 680.0,504.8 680.0,510.5 672.8,507.6 667.1,504.8"/>
<polygon fill="#f7ac4b" points="638.9,559.9 648.8,559.2 660.1,561.3 668.6,564.2 680.0,567.0 680.0,580.0 640.3,580.0 638.9,569.8"/>
<polygon fill="#f9cb2a" points="658.7,576.9 665.7,572.7 674.2,573.4 680.0,575.5 680.0,580.0 658.7,580.0"/>
<polygon fill="#e3572b" points="428.3,420.0 436.7,425.7 446.6,432.7 459.4,441.2 470.7,446.9 482.0,452.5 493.3,458.2 504.6,463.8 513.1,468.1 524.4,472.3 532.9,473.7 541.3,479.4 549.8,485.0 559.7,492.1 569.6,499.2 578.1,506.2 586.6,513.3 595.1,516.8 607.8,516.1 610.6,511.9 606.4,506.2 602.1,497.7 603.5,493.5 614.8,492.1 624.7,490.7 624.7,483.6 620.5,479.4 614.8,473.7 614.1,468.1 620.5,465.2 626.1,462.4 626.9,442.6 631.8,438.4 640.3,432.7 648.8,434.1 657.2,437.0 668.6,441.2 680.0,444.0 680.0,420.0"/>
<polygon fill="#ee7550" points="530.0,451.1 534.3,451.8 544.2,461.0 539.9,466.6 534.3,465.2 530.0,459.6"/>
<polygon fill="#d74554" points="490.5,420.0 498.9,424.2 507.4,428.5 513.1,432.0 521.6,432.7 521.6,427.1 515.9,420.0"/>
<polygon fill="#d74554" points="566.8,420.0 612.0,420.0 612.0,422.8 597.9,424.2 597.9,434.1 595.1,445.4 589.4,458.2 595.1,466.6 596.5,478.0 583.7,478.0 578.1,472.3 569.6,465.2 565.4,456.7 566.8,449.7 578.1,452.5 580.9,449.7 573.9,441.2 568.2,434.1"/>
<polygon fill="#d74554" points="623.3,420.0 634.6,421.4 645.9,420.0"/>
<polygon fill="#d74554" points="658.7,420.0 668.6,424.2 680.0,427.1 680.0,420.0"/>
<polygon fill="#e3572b" points="460.1,492.8 463.6,492.1 470.7,497.7 477.0,502.0 476.3,504.1 470.7,502.7 465.0,498.4"/>
<polygon fill="#e3572b" points="576.7,560.6 582.3,561.3 588.0,565.6 590.8,569.1 586.6,569.8 580.9,565.6"/>
<polygon fill="#e3572b" points="442.4,569.1 449.5,571.2 456.5,574.8 462.2,575.5 467.8,576.9 470.7,580.0 453.7,580.0 448.1,574.1"/>
</g>
<clipPath id="cp2"><rect x="770" y="440" width="230" height="135"/></clipPath>
<g clip-path="url(#cp2)">
<rect x="770" y="440" width="230" height="135" fill="#f59c33"/>
<polygon fill="#f7ac4b" points="760.0,549.7 764.8,552.1 769.5,558.1 774.3,560.5 779.1,559.3 783.9,565.2 791.0,571.2 795.8,575.0 760.0,575.0"/>
<polygon fill="#f28541" points="760.0,496.1 764.8,497.3 771.9,502.0 779.1,506.8 786.2,511.6 793.4,516.3 800.6,521.1 807.7,525.9 814.9,530.7 822.0,535.4 829.2,541.4 836.3,547.4 843.5,554.5 850.7,559.3 855.4,561.7 860.2,559.3 867.4,560.5 874.5,564.1 881.7,568.8 888.8,572.4 893.6,575.0 1000.0,575.0 1000.0,440.0 760.0,440.0"/>
<polygon fill="#ee7550" points="760.0,482.9 764.8,485.3 771.9,490.1 779.1,493.7 786.2,499.6 793.4,504.4 800.6,509.2 807.7,514.0 814.9,518.7 822.0,523.5 829.2,529.5 836.3,535.4 843.5,542.6 850.7,548.5 855.4,550.9 860.2,549.7 867.4,552.1 874.5,554.5 881.7,558.1 888.8,561.7 896.0,566.4 903.1,571.2 907.9,575.0 1000.0,575.0 1000.0,440.0 760.0,440.0"/>
<polygon fill="#e3572b" points="760.0,465.0 764.8,468.6 771.9,472.2 779.1,475.8 786.2,480.6 793.4,486.5 800.6,491.3 807.7,494.9 814.9,498.4 822.0,503.2 824.4,510.4 829.2,516.3 836.3,522.3 843.5,530.7 845.9,535.4 850.7,534.2 855.4,536.6 860.2,536.6 867.4,539.0 874.5,541.4 881.7,545.0 888.8,548.5 896.0,553.3 898.4,559.3 903.1,565.2 910.3,570.0 915.1,575.0 1000.0,575.0 1000.0,440.0 760.0,440.0"/>
<polygon fill="#d74554" points="760.0,449.5 764.8,453.1 771.9,455.5 779.1,460.3 786.2,465.0 793.4,469.8 800.6,475.8 807.7,480.6 814.9,482.9 819.6,487.7 824.4,493.7 831.6,499.6 838.7,506.8 843.5,511.6 850.7,517.5 855.4,521.1 862.6,522.3 869.7,525.9 876.9,530.7 884.1,535.4 891.2,540.2 898.4,546.2 903.1,553.3 907.9,559.3 915.1,564.1 922.2,568.8 929.4,572.4 933.0,575.0 1000.0,575.0 1000.0,440.0 760.0,440.0"/>
<polygon fill="#921b1b" points="838.7,485.3 838.7,489.5 841.1,493.7 845.9,499.6 850.7,503.2 857.8,505.6 865.0,509.2 872.1,512.8 879.3,517.5 886.4,522.3 893.6,525.9 898.4,530.7 903.1,535.4 904.3,542.6 909.1,547.4 913.9,554.5 919.8,559.3 927.0,562.9 931.8,566.4 936.5,571.2 938.9,575.0 1000.0,575.0 1000.0,440.0 838.7,440.0"/>
<polygon fill="#5e0a07" points="903.1,523.5 903.1,528.9 907.9,534.2 912.7,539.0 918.6,543.8 924.6,547.4 930.6,553.3 936.5,560.5 941.3,566.4 946.1,571.2 950.9,575.0 1000.0,575.0 1000.0,440.0 903.1,440.0"/>
<polygon fill="#3b060a" points="942.5,547.4 942.5,552.1 948.5,556.9 955.6,562.9 962.8,568.8 969.9,575.0 1000.0,575.0 1000.0,440.0 942.5,440.0"/>
</g>
</g>
<line x1="110.5" y1="673.2" x2="1146" y2="670.4" stroke="#85878a" stroke-width="1.15" stroke-dasharray="4 3.8"/><line x1="1146.6" y1="669" x2="1146.6" y2="702" stroke="#85878a" stroke-width="1.15" stroke-dasharray="4 3.8"/><polygon points="1146.5,663.2 1153.4,674.8 1139.6,674.8" fill="none" stroke="#85878a" stroke-width="1.9"/>
<clipPath id="triB"><polygon points="1374.0,65.4 1374.0,494.85 2097.0,494.85 2094.5,493.35"/></clipPath>
<g clip-path="url(#triB)">
<clipPath id="cb1"><rect x="1470" y="430" width="200" height="66"/></clipPath>
<g clip-path="url(#cb1)">
<polygon fill="#f59c33" points="1492.1,473.8 1494.8,474.3 1498.6,472.9 1502.4,474.3 1508.1,473.8 1509.1,476.7 1511.0,475.7 1511.9,479.5 1515.7,483.4 1519.5,486.2 1522.4,489.1 1524.3,491.9 1525.7,494.8 1494.3,494.8 1493.8,491.0 1495.3,489.1 1494.8,483.4 1493.3,479.5 1492.9,476.7"/>
<polygon fill="#f28541" points="1495.7,477.6 1498.6,476.7 1502.4,478.6 1506.2,481.5 1510.0,484.3 1512.9,488.1 1514.8,491.9 1515.7,493.8 1495.7,493.8 1496.2,487.2"/>
<polygon fill="#ee7550" points="1502.4,481.5 1506.2,483.4 1510.0,486.2 1511.9,490.0 1510.0,491.9 1506.2,489.1 1503.3,485.3"/>
<polygon fill="#29a99e" points="1569.1,445.2 1575.8,445.2 1579.6,447.6 1584.3,451.0 1590.1,454.3 1595.8,457.6 1600.5,460.5 1605.3,463.3 1609.6,465.3 1609.6,458.6 1612.9,459.5 1615.8,460.5 1618.2,463.3 1618.6,468.1 1622.5,471.0 1624.4,475.7 1628.2,479.5 1633.9,482.9 1639.6,485.3 1645.3,489.1 1651.0,492.9 1652.5,494.8 1610.1,494.8 1607.2,490.0 1605.3,486.2 1601.5,483.4 1596.7,481.5 1592.0,479.5 1587.2,476.7 1582.4,473.8 1577.7,470.0 1573.9,466.2 1570.0,462.4 1567.2,459.5 1567.2,451.0"/>
<polygon fill="#29a99e" points="1609.6,452.9 1612.0,453.3 1614.8,454.8 1616.7,456.7 1614.8,457.2 1612.0,455.3"/>
<polygon fill="#1f887f" points="1573.9,456.7 1578.6,456.7 1584.3,459.5 1590.1,462.4 1595.8,465.3 1601.5,468.1 1607.2,469.1 1612.9,471.9 1618.6,475.7 1624.4,480.5 1630.1,484.3 1635.8,487.2 1641.5,491.0 1647.2,493.8 1648.2,494.8 1611.0,494.8 1608.2,490.0 1607.2,485.3 1603.4,482.4 1598.6,479.5 1593.9,477.6 1589.1,474.8 1584.3,471.9 1579.6,468.1 1575.8,464.3 1573.9,460.5"/>
<polygon fill="#3080c0" points="1610.1,477.6 1613.9,476.2 1617.7,478.6 1622.5,481.9 1624.4,485.3 1626.3,489.1 1626.3,492.9 1622.5,492.9 1616.7,491.0 1612.0,487.2 1610.1,482.4"/>
<polygon fill="#1873b7" points="1614.8,483.4 1618.6,484.3 1622.5,487.2 1623.4,491.0 1619.6,490.0 1615.8,487.2"/>
</g>
<clipPath id="cb2"><rect x="1940" y="400" width="159" height="96"/></clipPath>
<g clip-path="url(#cb2)">
<polygon fill="#f59c33" points="1965.2,416.3 1966.5,420.3 1969.2,425.6 1970.0,430.9 1971.8,434.4 1977.1,438.9 1982.4,442.4 1987.7,445.1 1991.2,447.7 1995.7,450.4 2000.1,453.0 2005.4,456.5 2010.7,460.1 2012.4,462.7 2017.7,463.2 2020.4,460.9 2019.5,458.3 2022.2,457.4 2025.7,458.3 2028.3,461.8 2029.2,467.1 2031.0,471.6 2033.6,474.2 2038.9,476.9 2042.5,479.5 2044.2,483.0 2044.2,488.3 2040.7,490.1 2037.2,489.2 2033.6,486.6 2031.9,484.8 2030.1,487.4 2031.0,491.9 2033.6,494.5 2052.2,494.5 2053.1,488.3 2056.6,486.6 2061.0,487.4 2061.9,483.9 2063.7,482.1 2069.0,484.8 2074.3,487.4 2078.7,490.1 2084.9,490.1 2085.8,485.1 1965.2,415.5"/>
<polygon fill="#f28541" points="1969.2,421.2 1972.7,429.1 1978.0,435.3 1984.2,438.9 1989.5,441.5 1994.8,445.9 2001.8,451.2 2007.1,453.9 2012.4,457.4 2017.7,460.1 2019.5,457.4 2023.0,455.6 2027.5,457.4 2030.1,461.8 2031.9,467.1 2035.4,470.7 2040.7,473.3 2046.0,477.7 2048.7,482.1 2053.1,483.9 2057.5,483.0 2061.9,481.3 2067.2,483.0 2072.5,485.7 2079.6,489.2 2084.9,489.2 2085.8,485.1 1969.2,417.2"/>
<polygon fill="#ee7550" points="1969.2,419.9 1975.3,426.1 1982.4,431.8 1989.5,436.2 1996.5,440.6 2003.6,445.1 2010.7,450.4 2016.0,453.9 2019.5,456.1 2024.8,457.0 2029.2,460.5 2033.6,464.0 2038.9,467.6 2044.2,471.1 2049.5,475.5 2054.8,478.2 2060.1,479.9 2065.4,482.6 2072.5,486.1 2079.6,489.2 2084.9,489.2 2085.8,485.1 1969.2,417.2"/>
<polygon fill="#e3572b" points="1969.2,419.0 1977.1,425.2 1985.9,431.4 1994.8,438.0 2003.6,443.3 2012.4,449.5 2019.5,453.9 2028.3,458.3 2037.2,463.6 2046.0,468.9 2054.8,475.1 2063.7,479.5 2072.5,484.4 2081.3,488.8 2085.8,485.1 1969.2,417.2"/>
<polygon fill="#d74554" points="2003.6,440.6 2008.9,443.3 2014.2,446.8 2016.8,449.5 2015.1,450.4 2010.7,448.6 2006.2,445.1"/>
<polygon fill="#d74554" points="2045.1,466.2 2049.5,468.0 2053.9,470.7 2058.4,473.3 2059.2,476.0 2054.8,475.1 2049.5,472.4 2046.0,469.8"/>
<polygon fill="#921b1b" points="2046.0,467.1 2049.5,466.2 2051.3,468.9 2049.5,470.7 2046.9,469.8"/>
<polygon fill="#f59c33" points="1978.0,454.3 1979.8,453.9 1981.5,455.6 1980.6,457.0 1978.9,456.1"/>
<polygon fill="#f59c33" points="1991.2,461.8 1993.0,462.3 1992.1,463.2"/>
<polygon fill="#f59c33" points="2001.0,467.6 2003.6,468.9 2007.1,471.6 2010.7,472.4 2014.2,473.3 2016.0,476.0 2017.3,479.5 2016.8,482.6 2012.4,482.6 2010.7,479.5 2007.1,476.9 2004.5,474.2 2002.7,470.7"/>
<polygon fill="#f59c33" points="2095.5,486.1 2097.2,485.7 2097.2,488.3 2095.9,487.9"/>
</g>
</g>
<line x1="1374.0" y1="470.4" x2="2049" y2="469.9" stroke="#85878a" stroke-width="1.15" stroke-dasharray="4 3.8"/>
<line x1="2049.5" y1="467" x2="2049.5" y2="493.35" stroke="#85878a" stroke-width="1.15" stroke-dasharray="4 3.8"/>
<line x1="1374.3" y1="68.85000000000001" x2="2097.1" y2="493.55" stroke="#111111" stroke-width="2.35" stroke-dasharray="4.3 3.7" stroke-dashoffset="-2.2"/>
<polygon points="2049.5,460.3 2056.4,472.4 2042.6,472.4" fill="none" stroke="#85878a" stroke-width="1.9"/>
<clipPath id="triC"><polygon points="1372.0,625.6 1372.0,1051.35 2093.7,1051.35 2091.2,1049.85"/></clipPath>
<g clip-path="url(#triC)">
<clipPath id="cc1"><rect x="1400" y="630" width="360" height="205"/></clipPath>
<g clip-path="url(#cc1)">
<polygon fill="#f59c33" points="1411.2,649.0 1412.7,660.8 1412.3,671.6 1418.1,677.1 1427.2,683.4 1436.2,687.9 1447.1,692.5 1456.1,695.2 1461.6,702.4 1468.8,709.7 1472.4,716.9 1481.5,720.5 1490.5,726.0 1499.6,733.2 1508.7,740.5 1515.9,747.7 1518.6,756.8 1524.9,760.4 1532.2,764.0 1537.6,767.6 1543.1,773.1 1541.2,775.8 1534.0,771.2 1526.8,764.9 1515.9,763.1 1512.3,769.4 1503.2,767.6 1508.7,773.1 1514.1,778.5 1517.7,783.9 1512.3,784.8 1505.0,781.2 1499.6,782.1 1498.7,787.5 1505.0,794.8 1512.3,800.2 1519.5,805.7 1526.8,811.1 1534.0,814.7 1541.2,820.1 1543.1,829.2 1544.9,835.0 1718.7,835.0 1716.9,826.5 1411.2,646.3"/>
<polygon fill="#f59c33" points="1472.4,768.5 1475.2,768.5 1476.1,772.2 1473.3,771.2"/>
<polygon fill="#f59c33" points="1526.8,814.7 1529.5,815.6 1529.5,819.2 1527.7,818.3"/>
<polygon fill="#f28541" points="1503.2,702.4 1505.0,715.1 1501.4,724.2 1508.7,731.4 1517.7,738.7 1526.8,745.9 1537.6,749.5 1544.9,756.8 1552.1,764.0 1559.4,771.2 1570.2,774.9 1575.7,783.9 1581.1,793.0 1588.3,796.6 1595.6,803.8 1602.8,811.1 1613.7,814.7 1620.9,811.1 1628.2,809.3 1635.4,812.9 1646.3,818.3 1657.1,822.0 1668.0,825.6 1678.9,829.2 1689.7,832.8 1697.0,829.2 1697.0,812.9"/>
<polygon fill="#f28541" points="1544.9,807.5 1552.1,809.3 1563.0,814.7 1570.2,818.3 1573.8,811.1 1581.1,802.0 1588.3,807.5 1595.6,814.7 1602.8,820.1 1613.7,822.0 1617.3,835.0 1548.5,835.0 1543.1,820.1"/>
<polygon fill="#f28541" points="1550.3,794.8 1557.5,798.4 1564.8,803.8 1566.6,807.5 1559.4,805.7 1552.1,800.2"/>
<polygon fill="#ee7550" points="1552.1,731.4 1550.3,742.3 1546.7,749.5 1553.9,754.9 1563.0,760.4 1570.2,764.0 1573.8,771.2 1581.1,774.9 1592.0,783.9 1599.2,789.4 1610.1,793.0 1620.9,798.4 1631.8,800.2 1635.4,793.0 1637.2,778.5"/>
<polygon fill="#f28541" points="1566.6,743.2 1572.0,745.9 1572.0,760.4 1568.4,762.2"/>
<polygon fill="#ee7550" points="1677.1,803.8 1686.1,809.3 1687.9,820.1 1686.1,831.0 1678.9,827.4 1677.1,816.5"/>
<polygon fill="#ffffff" points="1637.2,828.3 1642.7,830.1 1649.9,835.0 1640.8,835.0"/>
</g>
<clipPath id="cc3"><rect x="1400" y="835" width="350" height="217"/></clipPath>
<g clip-path="url(#cc3)">
<polygon fill="#f59c33" points="1544.1,830.0 1551.1,838.0 1557.0,843.9 1567.0,846.9 1574.9,853.9 1582.9,859.8 1590.8,865.8 1598.8,871.7 1606.7,877.7 1614.7,881.7 1624.6,881.7 1634.6,884.7 1644.5,889.6 1650.5,887.6 1658.4,893.6 1666.4,899.6 1674.3,905.5 1680.3,911.5 1686.3,915.5 1688.2,905.5 1693.2,903.6 1693.2,889.6 1690.2,879.7 1691.2,867.8 1687.2,857.8 1694.2,851.9 1702.2,847.9 1710.1,849.9 1718.1,849.9 1718.1,830.0"/>
<polygon fill="#f28541" points="1565.0,830.0 1618.7,830.0 1624.6,838.0 1634.6,847.9 1642.5,859.8 1646.5,869.8 1638.5,871.7 1628.6,865.8 1618.7,869.8 1610.7,871.7 1602.8,863.8 1594.8,857.8 1586.9,851.9 1578.9,847.9 1571.0,839.9"/>
<polygon fill="#ee7550" points="1602.8,845.9 1610.7,844.9 1614.7,851.9 1613.7,857.8 1606.7,855.8 1602.8,849.9"/>
<polygon fill="#f28541" points="1678.3,830.0 1694.2,830.0 1698.2,838.0 1688.2,839.9 1680.3,836.0"/>
<polygon fill="#f28541" points="1674.3,887.6 1682.3,887.6 1687.2,895.6 1684.3,899.6 1676.3,895.6"/>
<polygon fill="#f28541" points="1658.4,877.7 1666.4,879.7 1670.3,885.7 1664.4,885.7"/>
<polygon fill="#ffffff" points="1640.5,830.0 1646.5,834.0 1656.4,839.9 1666.4,845.9 1676.3,850.9 1674.3,851.9 1664.4,847.9 1654.4,842.9 1644.5,837.0 1638.5,832.0"/>
<polygon fill="#ffffff" points="1646.5,882.7 1652.5,883.7 1662.4,890.6 1672.3,896.6 1674.3,900.6 1666.4,896.6 1656.4,890.6 1648.5,886.7"/>
<polygon fill="#f59c33" points="1519.3,916.5 1525.2,915.5 1531.2,919.5 1537.2,924.4 1536.2,929.4 1529.2,927.4 1523.2,923.4 1518.3,920.4"/>
<polygon fill="#f59c33" points="1606.7,912.5 1610.7,913.5 1614.7,917.5 1611.7,918.5 1607.7,915.5"/>
<polygon fill="#f59c33" points="1556.0,971.1 1559.0,973.1 1561.0,979.1 1558.0,980.1 1556.0,975.1"/>
<polygon fill="#f59c33" points="1542.1,928.4 1547.1,925.4 1557.0,927.4 1565.0,933.4 1571.0,938.3 1578.9,937.3 1586.9,943.3 1596.8,945.3 1606.7,949.3 1614.7,955.2 1620.7,963.2 1624.6,969.1 1634.6,975.1 1642.5,981.1 1648.5,987.0 1654.4,990.0 1664.4,992.0 1674.3,997.0 1684.3,1002.9 1690.2,1008.9 1693.2,1016.9 1694.2,1024.8 1688.2,1028.8 1686.3,1036.7 1691.2,1044.7 1692.2,1050.7 1664.4,1050.7 1658.4,1042.7 1652.5,1034.7 1646.5,1032.8 1638.5,1030.8 1630.6,1026.8 1622.6,1030.8 1616.7,1026.8 1610.7,1028.8 1606.7,1020.8 1602.8,1012.9 1596.8,1006.9 1590.8,1002.9 1584.9,997.0 1576.9,991.0 1573.9,985.1 1576.9,982.1 1584.9,987.0 1590.8,989.0 1596.8,987.0 1602.8,991.0 1600.8,985.1 1594.8,981.1 1590.8,973.1 1584.9,969.1 1578.9,965.2 1572.9,957.2 1569.0,951.3 1561.0,949.3 1553.1,943.3 1547.1,937.3 1542.1,932.4"/>
<polygon fill="#ffffff" points="1618.7,999.0 1624.6,996.0 1630.6,999.0 1638.5,998.0 1646.5,998.0 1652.5,1002.9 1658.4,1010.9 1662.4,1017.9 1670.3,1023.8 1677.3,1027.8 1676.3,1032.8 1666.4,1030.8 1656.4,1028.8 1648.5,1027.8 1640.5,1021.8 1632.6,1015.9 1624.6,1011.9 1621.6,1005.9"/>
<polygon fill="#f28541" points="1572.9,947.3 1580.9,945.3 1590.8,949.3 1598.8,953.2 1608.7,957.2 1616.7,965.2 1622.6,973.1 1630.6,981.1 1638.5,987.0 1644.5,991.0 1638.5,993.0 1628.6,987.0 1620.7,983.1 1614.7,985.1 1606.7,981.1 1598.8,975.1 1592.8,969.1 1586.9,963.2 1578.9,957.2 1572.9,951.3"/>
<polygon fill="#ee7550" points="1590.8,959.2 1598.8,958.2 1606.7,961.2 1614.7,969.1 1620.7,977.1 1616.7,981.1 1608.7,977.1 1600.8,973.1 1594.8,967.2"/>
<polygon fill="#e3572b" points="1604.7,969.1 1610.7,968.2 1614.7,973.1 1613.7,978.1 1607.7,976.1"/>
<polygon fill="#f28541" points="1554.1,937.3 1561.0,938.3 1565.0,943.3 1563.0,947.3 1557.0,944.3"/>
<polygon fill="#f28541" points="1592.8,997.0 1600.8,995.0 1608.7,1001.0 1614.7,1008.9 1616.7,1016.9 1610.7,1018.8 1604.7,1012.9 1596.8,1004.9"/>
<polygon fill="#ee7550" points="1606.7,1004.9 1612.7,1006.9 1614.7,1013.9 1609.7,1014.9"/>
<polygon fill="#f28541" points="1654.4,995.0 1664.4,997.0 1674.3,1002.9 1684.3,1008.9 1689.2,1016.9 1688.2,1022.8 1680.3,1020.8 1672.3,1014.9 1662.4,1006.9 1656.4,1001.0"/>
<polygon fill="#ee7550" points="1674.3,1007.9 1682.3,1009.9 1687.2,1016.9 1684.3,1020.8 1678.3,1017.9"/>
<polygon fill="#f28541" points="1658.4,1036.7 1668.4,1038.7 1678.3,1042.7 1686.3,1046.7 1688.2,1050.7 1664.4,1050.7"/>
<polygon fill="#ee7550" points="1668.4,1042.7 1676.3,1044.7 1682.3,1050.7 1666.4,1050.7"/>
</g>
<clipPath id="cc4"><rect x="1750" y="830" width="349" height="222"/></clipPath>
<g clip-path="url(#cc4)">
<polygon fill="#f59c33" points="1753.5,847.9 1777.8,861.8 1777.8,885.7 1771.8,883.7 1763.9,879.7 1753.5,873.7"/>
<polygon fill="#ffffff" points="1766.8,861.8 1769.8,862.8 1769.8,876.7 1767.4,875.7"/>
<polygon fill="#f59c33" points="1814.5,883.7 1815.5,897.6 1814.5,909.5 1821.5,915.5 1829.5,921.4 1837.4,927.4 1843.4,935.4 1851.3,943.3 1859.3,949.3 1869.2,951.3 1879.1,956.2 1887.1,955.2 1891.1,961.2 1899.0,969.1 1907.0,977.1 1912.9,985.0 1918.9,991.0 1911.0,993.0 1901.0,994.0 1895.0,999.0 1899.0,1004.9 1905.0,1008.9 1901.0,1011.9 1891.1,1011.9 1888.1,1016.9 1893.1,1024.8 1897.0,1032.8 1899.0,1040.7 1905.0,1050.6 1954.7,1050.6 1948.7,1040.7 1946.7,1028.8 1942.8,1018.8 1942.8,1006.9 1948.7,1001.0 1958.7,999.0 1968.6,999.0 1974.6,1002.9 1982.5,1008.9 1982.5,981.1"/>
<polygon fill="#f28541" points="1841.4,901.6 1842.4,919.5 1843.4,929.4 1851.3,937.3 1861.3,945.3 1871.2,949.3 1883.1,953.2 1891.1,957.2 1899.0,965.2 1907.0,973.1 1914.9,983.1 1922.9,993.0 1926.9,1001.0 1924.9,1008.9 1918.9,1012.9 1911.0,1014.9 1903.0,1018.8 1899.0,1024.8 1903.0,1032.8 1909.0,1040.7 1912.9,1050.6 1950.7,1050.6 1946.7,1038.7 1942.8,1024.8 1938.8,1012.9 1940.8,1002.9 1946.7,997.0 1956.7,995.0 1958.7,981.1 1958.7,967.2"/>
<polygon fill="#f59c33" points="1883.1,923.4 1891.1,927.4 1891.1,955.2 1883.1,953.2"/>
<polygon fill="#ee7550" points="1893.1,927.4 1897.0,941.3 1899.0,953.2 1905.0,961.2 1911.0,969.1 1916.9,977.1 1922.9,987.0 1928.8,993.0 1938.8,995.0 1946.7,989.0 1948.7,977.1 1948.7,961.2"/>
<polygon fill="#e3572b" points="1919.9,944.3 1918.9,957.2 1920.9,969.1 1924.9,979.1 1930.8,987.0 1938.8,989.0 1942.8,981.1 1942.8,969.1 1942.8,958.2"/>
<polygon fill="#d74554" points="1930.8,969.1 1936.8,970.1 1938.8,977.1 1936.8,983.1 1931.8,981.1 1929.8,975.1"/>
<polygon fill="#ee7550" points="1903.0,1020.8 1911.0,1016.9 1918.9,1014.9 1926.9,1016.9 1934.8,1020.8 1940.8,1028.8 1944.7,1038.7 1948.7,1050.6 1909.0,1050.6 1905.0,1040.7 1901.0,1030.8"/>
<polygon fill="#e3572b" points="1907.0,1028.8 1914.9,1024.8 1922.9,1023.8 1930.8,1026.8 1936.8,1032.8 1940.8,1040.7 1944.7,1050.6 1912.9,1050.6 1909.0,1038.7"/>
<polygon fill="#d74554" points="1913.3,1030.8 1921.3,1028.8 1929.2,1030.8 1935.2,1036.7 1939.2,1044.7 1941.2,1050.6 1919.3,1050.6 1915.3,1040.7"/>
<polygon fill="#921b1b" points="1919.3,1032.8 1927.3,1032.8 1933.2,1036.7 1939.2,1042.7 1943.2,1050.6 1923.3,1050.6 1920.3,1040.7"/>
<polygon fill="#3b060a" points="1923.3,1034.7 1931.2,1036.7 1937.2,1040.7 1941.2,1046.7 1942.2,1050.6 1927.3,1050.6 1924.3,1042.7"/>
<polygon fill="#070707" points="1929.2,1040.7 1935.2,1042.7 1939.2,1047.7 1940.2,1050.6 1931.2,1050.6"/>
<polygon fill="#ffffff" points="1966.6,989.0 1976.6,992.0 1976.6,994.0 1966.6,991.0"/>
<polygon fill="#ffffff" points="1966.6,997.0 1976.6,1000.0 1976.6,1001.9 1966.6,999.0"/>
<polygon fill="#f59c33" points="1838.4,986.0 1843.4,983.1 1851.3,985.0 1859.3,987.0 1863.2,993.0 1871.2,999.0 1879.1,1002.9 1883.1,1008.9 1886.1,1014.9 1883.1,1017.8 1875.2,1016.9 1867.2,1012.9 1863.2,1015.9 1867.2,1019.8 1859.3,1022.8 1855.3,1016.9 1849.3,1008.9 1851.3,1004.9 1845.4,999.0 1841.4,993.0"/>
<polygon fill="#f28541" points="1847.3,991.0 1855.3,992.0 1863.2,999.0 1871.2,1004.9 1877.2,1009.9 1873.2,1012.9 1865.2,1008.9 1857.3,1002.9 1851.3,997.0"/>
<polygon fill="#f59c33" points="1850.3,973.1 1855.3,968.2 1860.3,967.2 1861.3,973.1 1863.2,979.1 1866.2,982.1 1859.3,983.1 1854.3,978.1"/>
<polygon fill="#f59c33" points="2013.3,1005.9 2018.3,1004.9 2025.3,1010.9 2024.3,1020.8 2025.3,1032.8 2020.3,1032.8 2015.3,1026.8 2015.3,1014.9"/>
<polygon fill="#f59c33" points="2036.2,1016.9 2038.2,1028.8 2036.2,1038.7 2042.1,1044.7 2047.1,1050.6 2089.9,1050.6 2089.9,1044.7"/>
<polygon fill="#f28541" points="2050.1,1022.8 2052.1,1038.7 2054.1,1050.6 2089.9,1050.6 2089.9,1044.7"/>
<polygon fill="#ee7550" points="2058.1,1026.8 2059.0,1040.7 2060.0,1050.6 2089.9,1050.6 2089.9,1044.7"/>
<polygon fill="#e3572b" points="2066.0,1031.8 2066.0,1044.7 2068.0,1050.6 2089.9,1050.6 2089.9,1044.7"/>
<polygon fill="#d74554" points="2060.0,1040.7 2064.0,1040.7 2066.0,1050.6 2061.0,1050.6"/>
</g>
</g>
<line x1="1372.0" y1="1044.2" x2="1930" y2="1044.2" stroke="#85878a" stroke-width="1.15" stroke-dasharray="4 3.8"/>
<line x1="1372.3" y1="625.1" x2="2097.0" y2="1050.05" stroke="#111111" stroke-width="2.35" stroke-dasharray="4.3 3.7" stroke-dashoffset="-2.2"/>
<polygon points="1930.8,1035.4 1937.7,1047.3 1923.8999999999999,1047.3" fill="none" stroke="#85878a" stroke-width="1.9"/>
<rect x="110.45" y="63.8" width="1100.1" height="638.75" fill="none" stroke="#262626" stroke-width="1.4"/>
<line x1="682" y1="63.8" x2="682" y2="702.55" stroke="#262626" stroke-width="1.4"/>
<line x1="147.0" y1="702.55" x2="147.0" y2="712.55" stroke="#262626" stroke-width="1.5"/>
<text x="147.0" y="739.7" font-size="23.3" text-anchor="middle" textLength="38.2" lengthAdjust="spacingAndGlyphs">150</text>
<line x1="270.7" y1="702.55" x2="270.7" y2="712.55" stroke="#262626" stroke-width="1.5"/>
<text x="270.7" y="739.7" font-size="23.3" text-anchor="middle" textLength="43.9" lengthAdjust="spacingAndGlyphs">200</text>
<line x1="394.4" y1="702.55" x2="394.4" y2="712.55" stroke="#262626" stroke-width="1.5"/>
<text x="394.4" y="739.7" font-size="23.3" text-anchor="middle" textLength="42.2" lengthAdjust="spacingAndGlyphs">250</text>
<line x1="518.1" y1="702.55" x2="518.1" y2="712.55" stroke="#262626" stroke-width="1.5"/>
<text x="518.1" y="739.7" font-size="23.3" text-anchor="middle" textLength="45.2" lengthAdjust="spacingAndGlyphs">300</text>
<line x1="641.8" y1="702.55" x2="641.8" y2="712.55" stroke="#262626" stroke-width="1.5"/>
<text x="641.8" y="739.7" font-size="23.3" text-anchor="middle" textLength="43.2" lengthAdjust="spacingAndGlyphs">350</text>
<line x1="765.5" y1="702.55" x2="765.5" y2="712.55" stroke="#262626" stroke-width="1.5"/>
<text x="765.5" y="739.7" font-size="23.3" text-anchor="middle" textLength="45.0" lengthAdjust="spacingAndGlyphs">400</text>
<line x1="889.2" y1="702.55" x2="889.2" y2="712.55" stroke="#262626" stroke-width="1.5"/>
<text x="889.2" y="739.7" font-size="23.3" text-anchor="middle" textLength="43.2" lengthAdjust="spacingAndGlyphs">450</text>
<line x1="1012.9" y1="702.55" x2="1012.9" y2="712.55" stroke="#262626" stroke-width="1.5"/>
<text x="1012.9" y="739.7" font-size="23.3" text-anchor="middle" textLength="44.9" lengthAdjust="spacingAndGlyphs">500</text>
<line x1="1136.6" y1="702.55" x2="1136.6" y2="712.55" stroke="#262626" stroke-width="1.5"/>
<text x="1136.6" y="739.7" font-size="23.3" text-anchor="middle" textLength="42.7" lengthAdjust="spacingAndGlyphs">550</text>
<line x1="99.45" y1="603.7" x2="110.45" y2="603.7" stroke="#262626" stroke-width="1.5"/>
<text x="88.1" y="612.3" font-size="23.3" text-anchor="end" textLength="41.4" lengthAdjust="spacingAndGlyphs">100</text>
<line x1="99.45" y1="459.9" x2="110.45" y2="459.9" stroke="#262626" stroke-width="1.5"/>
<text x="88.1" y="468.5" font-size="23.3" text-anchor="end" textLength="43.9" lengthAdjust="spacingAndGlyphs">200</text>
<line x1="99.45" y1="316.0" x2="110.45" y2="316.0" stroke="#262626" stroke-width="1.5"/>
<text x="88.1" y="326.4" font-size="23.3" text-anchor="end" textLength="45.2" lengthAdjust="spacingAndGlyphs">300</text>
<line x1="99.45" y1="172.2" x2="110.45" y2="172.2" stroke="#262626" stroke-width="1.5"/>
<text x="88.1" y="180.8" font-size="23.3" text-anchor="end" textLength="45.0" lengthAdjust="spacingAndGlyphs">400</text>
<text x="590.4" y="780.3" font-size="26.6" textLength="139.2" lengthAdjust="spacingAndGlyphs">Day of year</text>
<text x="22" y="473.6" font-size="26.6" textLength="177.2" lengthAdjust="spacingAndGlyphs" transform="rotate(-90 22 473.6)">Window width</text>
<text x="102.9" y="57" font-size="26.6" textLength="139.7" lengthAdjust="spacingAndGlyphs">1920–2020</text>
<text x="305.4" y="96" font-size="26.6" textLength="165.2" lengthAdjust="spacingAndGlyphs">Previous year</text>
<text x="923.4" y="98" font-size="26.6" textLength="155.7" lengthAdjust="spacingAndGlyphs">Current year</text>
<text x="981.9" y="543.5" font-size="26.6" textLength="222.2" lengthAdjust="spacingAndGlyphs">13 July–26 August</text>
<text x="1045.4" y="574.3" font-size="26.6" textLength="96.7" lengthAdjust="spacingAndGlyphs">45 days</text>
<rect x="1374.0" y="67.95" width="723.5999999999999" height="425.40000000000003" fill="none" stroke="#262626" stroke-width="1.4"/>
<line x1="1750" y1="67.95" x2="1750" y2="493.35" stroke="#262626" stroke-width="1.4"/>
<line x1="1397.3" y1="493.35" x2="1397.3" y2="503.35" stroke="#262626" stroke-width="1.5"/>
<text x="1397.3" y="529.8" font-size="23.3" text-anchor="middle" textLength="38.2" lengthAdjust="spacingAndGlyphs">150</text>
<line x1="1478.9" y1="493.35" x2="1478.9" y2="503.35" stroke="#262626" stroke-width="1.5"/>
<text x="1478.9" y="529.8" font-size="23.3" text-anchor="middle" textLength="43.9" lengthAdjust="spacingAndGlyphs">200</text>
<line x1="1560.5" y1="493.35" x2="1560.5" y2="503.35" stroke="#262626" stroke-width="1.5"/>
<text x="1560.5" y="529.8" font-size="23.3" text-anchor="middle" textLength="42.2" lengthAdjust="spacingAndGlyphs">250</text>
<line x1="1642.1" y1="493.35" x2="1642.1" y2="503.35" stroke="#262626" stroke-width="1.5"/>
<text x="1642.1" y="529.8" font-size="23.3" text-anchor="middle" textLength="45.2" lengthAdjust="spacingAndGlyphs">300</text>
<line x1="1723.7" y1="493.35" x2="1723.7" y2="503.35" stroke="#262626" stroke-width="1.5"/>
<text x="1723.7" y="529.8" font-size="23.3" text-anchor="middle" textLength="43.2" lengthAdjust="spacingAndGlyphs">350</text>
<line x1="1805.3" y1="493.35" x2="1805.3" y2="503.35" stroke="#262626" stroke-width="1.5"/>
<text x="1805.3" y="529.8" font-size="23.3" text-anchor="middle" textLength="45.0" lengthAdjust="spacingAndGlyphs">400</text>
<line x1="1886.9" y1="493.35" x2="1886.9" y2="503.35" stroke="#262626" stroke-width="1.5"/>
<text x="1886.9" y="529.8" font-size="23.3" text-anchor="middle" textLength="43.2" lengthAdjust="spacingAndGlyphs">450</text>
<line x1="1968.5" y1="493.35" x2="1968.5" y2="503.35" stroke="#262626" stroke-width="1.5"/>
<text x="1968.5" y="529.8" font-size="23.3" text-anchor="middle" textLength="44.9" lengthAdjust="spacingAndGlyphs">500</text>
<line x1="2050.1" y1="493.35" x2="2050.1" y2="503.35" stroke="#262626" stroke-width="1.5"/>
<text x="2050.1" y="529.8" font-size="23.3" text-anchor="middle" textLength="42.7" lengthAdjust="spacingAndGlyphs">550</text>
<line x1="1363.0" y1="426.4" x2="1374.0" y2="426.4" stroke="#262626" stroke-width="1.5"/>
<text x="1353.4" y="435.0" font-size="23.3" text-anchor="end" textLength="41.4" lengthAdjust="spacingAndGlyphs">100</text>
<line x1="1363.0" y1="330.4" x2="1374.0" y2="330.4" stroke="#262626" stroke-width="1.5"/>
<text x="1353.4" y="339.0" font-size="23.3" text-anchor="end" textLength="43.9" lengthAdjust="spacingAndGlyphs">200</text>
<line x1="1363.0" y1="234.4" x2="1374.0" y2="234.4" stroke="#262626" stroke-width="1.5"/>
<text x="1353.4" y="244.8" font-size="23.3" text-anchor="end" textLength="45.2" lengthAdjust="spacingAndGlyphs">300</text>
<line x1="1363.0" y1="138.4" x2="1374.0" y2="138.4" stroke="#262626" stroke-width="1.5"/>
<text x="1353.4" y="147.0" font-size="23.3" text-anchor="end" textLength="45.0" lengthAdjust="spacingAndGlyphs">400</text>
<text x="1680.7" y="562.8" font-size="26.6" textLength="138.7" lengthAdjust="spacingAndGlyphs">Day of year</text>
<text x="1278.5" y="362.1" font-size="26.6" textLength="177.2" lengthAdjust="spacingAndGlyphs" transform="rotate(-90 1278.5 362.1)">Window width</text>
<text x="1370.4" y="57.2" font-size="26.6" textLength="133.7" lengthAdjust="spacingAndGlyphs">1920–1969</text>
<text x="1476.9" y="97.5" font-size="26.6" textLength="164.7" lengthAdjust="spacingAndGlyphs">Previous year</text>
<text x="1844.9" y="97.5" font-size="26.6" textLength="155.2" lengthAdjust="spacingAndGlyphs">Current year</text>
<text x="1885.2" y="351.3" font-size="26.6" textLength="206.7" lengthAdjust="spacingAndGlyphs">2 July–27 August</text>
<text x="1942.0" y="382.7" font-size="26.6" textLength="94.4" lengthAdjust="spacingAndGlyphs">57 days</text>
<rect x="1372.0" y="624.2" width="725.5" height="425.64999999999986" fill="none" stroke="#262626" stroke-width="1.4"/>
<line x1="1747.8" y1="624.2" x2="1747.8" y2="1049.85" stroke="#262626" stroke-width="1.4"/>
<line x1="1396.5" y1="1049.85" x2="1396.5" y2="1059.85" stroke="#262626" stroke-width="1.5"/>
<text x="1396.5" y="1085.4" font-size="23.3" text-anchor="middle" textLength="38.2" lengthAdjust="spacingAndGlyphs">150</text>
<line x1="1477.8" y1="1049.85" x2="1477.8" y2="1059.85" stroke="#262626" stroke-width="1.5"/>
<text x="1477.8" y="1085.4" font-size="23.3" text-anchor="middle" textLength="43.9" lengthAdjust="spacingAndGlyphs">200</text>
<line x1="1559.1" y1="1049.85" x2="1559.1" y2="1059.85" stroke="#262626" stroke-width="1.5"/>
<text x="1559.1" y="1085.4" font-size="23.3" text-anchor="middle" textLength="42.2" lengthAdjust="spacingAndGlyphs">250</text>
<line x1="1640.4" y1="1049.85" x2="1640.4" y2="1059.85" stroke="#262626" stroke-width="1.5"/>
<text x="1640.4" y="1085.4" font-size="23.3" text-anchor="middle" textLength="45.2" lengthAdjust="spacingAndGlyphs">300</text>
<line x1="1721.7" y1="1049.85" x2="1721.7" y2="1059.85" stroke="#262626" stroke-width="1.5"/>
<text x="1721.7" y="1085.4" font-size="23.3" text-anchor="middle" textLength="43.2" lengthAdjust="spacingAndGlyphs">350</text>
<line x1="1803.0" y1="1049.85" x2="1803.0" y2="1059.85" stroke="#262626" stroke-width="1.5"/>
<text x="1803.0" y="1085.4" font-size="23.3" text-anchor="middle" textLength="45.0" lengthAdjust="spacingAndGlyphs">400</text>
<line x1="1884.3" y1="1049.85" x2="1884.3" y2="1059.85" stroke="#262626" stroke-width="1.5"/>
<text x="1884.3" y="1085.4" font-size="23.3" text-anchor="middle" textLength="43.2" lengthAdjust="spacingAndGlyphs">450</text>
<line x1="1965.6" y1="1049.85" x2="1965.6" y2="1059.85" stroke="#262626" stroke-width="1.5"/>
<text x="1965.6" y="1085.4" font-size="23.3" text-anchor="middle" textLength="44.9" lengthAdjust="spacingAndGlyphs">500</text>
<line x1="2046.9" y1="1049.85" x2="2046.9" y2="1059.85" stroke="#262626" stroke-width="1.5"/>
<text x="2046.9" y="1085.4" font-size="23.3" text-anchor="middle" textLength="42.7" lengthAdjust="spacingAndGlyphs">550</text>
<line x1="1361.0" y1="983.1" x2="1372.0" y2="983.1" stroke="#262626" stroke-width="1.5"/>
<text x="1352.4" y="991.7" font-size="23.3" text-anchor="end" textLength="41.4" lengthAdjust="spacingAndGlyphs">100</text>
<line x1="1361.0" y1="887.0" x2="1372.0" y2="887.0" stroke="#262626" stroke-width="1.5"/>
<text x="1352.4" y="895.6" font-size="23.3" text-anchor="end" textLength="43.9" lengthAdjust="spacingAndGlyphs">200</text>
<line x1="1361.0" y1="790.9" x2="1372.0" y2="790.9" stroke="#262626" stroke-width="1.5"/>
<text x="1352.4" y="801.3" font-size="23.3" text-anchor="end" textLength="45.2" lengthAdjust="spacingAndGlyphs">300</text>
<line x1="1361.0" y1="694.8" x2="1372.0" y2="694.8" stroke="#262626" stroke-width="1.5"/>
<text x="1352.4" y="703.4" font-size="23.3" text-anchor="end" textLength="45.0" lengthAdjust="spacingAndGlyphs">400</text>
<text x="1679.0" y="1124.7" font-size="26.6" textLength="138.7" lengthAdjust="spacingAndGlyphs">Day of year</text>
<text x="1278.5" y="905.6" font-size="26.6" textLength="177.2" lengthAdjust="spacingAndGlyphs" transform="rotate(-90 1278.5 905.6)">Window width</text>
<text x="1370.4" y="612.5" font-size="26.6" textLength="137.2" lengthAdjust="spacingAndGlyphs">1970–2020</text>
<text x="1480.8" y="655.4" font-size="26.6" textLength="164.2" lengthAdjust="spacingAndGlyphs">Previous year</text>
<text x="1848.8" y="655.4" font-size="26.6" textLength="155.6" lengthAdjust="spacingAndGlyphs">Current year</text>
<text x="1897.5" y="914.6" font-size="26.6" textLength="196.2" lengthAdjust="spacingAndGlyphs">27 April–28 May</text>
<text x="1947.7" y="945.3" font-size="26.6" textLength="96.5" lengthAdjust="spacingAndGlyphs">32 days</text>
<text x="0.6" y="33.5" font-size="40" textLength="21.2" lengthAdjust="spacingAndGlyphs" font-weight="bold" stroke="#231f20" stroke-width="0.9">a</text>
<text x="1254.6" y="34.0" font-size="40" textLength="27.0" lengthAdjust="spacingAndGlyphs" font-weight="bold" stroke="#231f20" stroke-width="0.9">b</text>
<text x="1255.8" y="599.6" font-size="40" textLength="22.6" lengthAdjust="spacingAndGlyphs" font-weight="bold" stroke="#231f20" stroke-width="0.9">c</text>
<rect x="472.3" y="903.5" width="21.9" height="31" fill="#0a2844"/>
<rect x="493.8" y="903.5" width="21.9" height="31" fill="#10466b"/>
<rect x="515.3" y="903.5" width="21.9" height="31" fill="#115c97"/>
<rect x="536.8" y="903.5" width="21.9" height="31" fill="#1873b7"/>
<rect x="558.3" y="903.5" width="21.9" height="31" fill="#3080c0"/>
<rect x="579.8" y="903.5" width="21.9" height="31" fill="#15756f"/>
<rect x="601.3" y="903.5" width="21.9" height="31" fill="#1f887f"/>
<rect x="622.8" y="903.5" width="21.9" height="31" fill="#25988e"/>
<rect x="644.3" y="903.5" width="21.9" height="31" fill="#29a99e"/>
<rect x="665.8" y="903.5" width="21.9" height="31" fill="#35b9b0"/>
<rect x="687.3" y="903.5" width="21.9" height="31" fill="#5cc0c4"/>
<rect x="708.8" y="903.5" width="21.9" height="31" fill="#5cc0c4"/>
<rect x="730.3" y="903.5" width="21.9" height="31" fill="#66c3cc"/>
<rect x="751.8" y="903.5" width="21.9" height="31" fill="#addcdd"/>
<rect x="773.3" y="903.5" width="21.9" height="31" fill="#b2dfdf"/>
<rect x="794.8" y="903.5" width="21.9" height="31" fill="#cde8eb"/>
<rect x="816.3" y="903.5" width="21.9" height="31" fill="#d5ecee"/>
<rect x="837.8" y="903.5" width="21.9" height="31" fill="#e3f1f2"/>
<rect x="859.3" y="903.5" width="21.9" height="31" fill="#f0f6f7"/>
<rect x="880.8" y="903.5" width="21.9" height="31" fill="#fafafa"/>
<rect x="472.3" y="977.3" width="21.9" height="30.6" fill="#fbfaf6"/>
<rect x="493.8" y="977.3" width="21.9" height="30.6" fill="#f9f5dc"/>
<rect x="515.3" y="977.3" width="21.9" height="30.6" fill="#f8f0d0"/>
<rect x="536.8" y="977.3" width="21.9" height="30.6" fill="#f8ebb3"/>
<rect x="558.3" y="977.3" width="21.9" height="30.6" fill="#f8e9ae"/>
<rect x="579.8" y="977.3" width="21.9" height="30.6" fill="#f6df8a"/>
<rect x="601.3" y="977.3" width="21.9" height="30.6" fill="#f5da7c"/>
<rect x="622.8" y="977.3" width="21.9" height="30.6" fill="#f9cb2a"/>
<rect x="644.3" y="977.3" width="21.9" height="30.6" fill="#f9cb2a"/>
<rect x="665.8" y="977.3" width="21.9" height="30.6" fill="#f7ac4b"/>
<rect x="687.3" y="977.3" width="21.9" height="30.6" fill="#f59c33"/>
<rect x="708.8" y="977.3" width="21.9" height="30.6" fill="#f39c33"/>
<rect x="730.3" y="977.3" width="21.9" height="30.6" fill="#f28541"/>
<rect x="751.8" y="977.3" width="21.9" height="30.6" fill="#ee7550"/>
<rect x="773.3" y="977.3" width="21.9" height="30.6" fill="#e3572b"/>
<rect x="794.8" y="977.3" width="21.9" height="30.6" fill="#d74554"/>
<rect x="816.3" y="977.3" width="21.9" height="30.6" fill="#921b1b"/>
<rect x="837.8" y="977.3" width="21.9" height="30.6" fill="#5e0a07"/>
<rect x="859.3" y="977.3" width="21.9" height="30.6" fill="#3b060a"/>
<rect x="880.8" y="977.3" width="21.9" height="30.6" fill="#070707"/>
<line x1="473.3" y1="896" x2="473.3" y2="905" stroke="#231f20" stroke-width="1.3"/>
<line x1="473.3" y1="969.3" x2="473.3" y2="978.5" stroke="#231f20" stroke-width="1.3"/>
<line x1="687" y1="896" x2="687" y2="905" stroke="#231f20" stroke-width="1.3"/>
<line x1="687" y1="969.3" x2="687" y2="978.5" stroke="#231f20" stroke-width="1.3"/>
<line x1="901.2" y1="896" x2="901.2" y2="905" stroke="#231f20" stroke-width="1.3"/>
<line x1="901.2" y1="969.3" x2="901.2" y2="978.5" stroke="#231f20" stroke-width="1.3"/>
<text x="516.7" y="838" font-size="26.6" textLength="342.0" lengthAdjust="spacingAndGlyphs">Coefficient of correlation (<tspan font-style="italic">r</tspan>)</text>
<text x="443.6" y="883" font-size="22.5" textLength="59.4" lengthAdjust="spacingAndGlyphs">−0.50</text>
<text x="665.2" y="883" font-size="22.5" textLength="57.1" lengthAdjust="spacingAndGlyphs">−0.25</text>
<text x="896.9" y="883" font-size="22.5" textLength="14.5" lengthAdjust="spacingAndGlyphs">0</text>
<text x="466.7" y="961" font-size="22.5" textLength="14.5" lengthAdjust="spacingAndGlyphs">0</text>
<text x="667.5" y="961" font-size="22.5" textLength="45.4" lengthAdjust="spacingAndGlyphs">0.25</text>
<text x="875.9" y="961" font-size="22.5" textLength="47.4" lengthAdjust="spacingAndGlyphs">0.50</text>
</svg>
</body>
</html>
